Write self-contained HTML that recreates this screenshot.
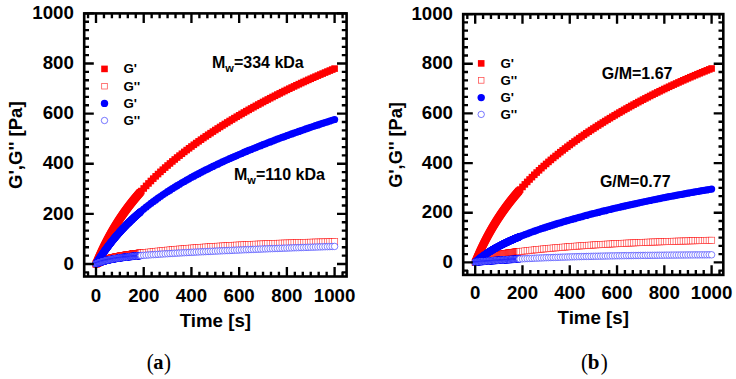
<!DOCTYPE html>
<html><head><meta charset="utf-8"><title>G' G'' vs time</title>
<style>html,body{margin:0;padding:0;background:#fff;width:736px;height:379px;overflow:hidden}svg{display:block}</style>
</head><body><svg width="736" height="379" viewBox="0 0 736 379"><g fill="#ff0000" stroke="none"><rect x="92.7" y="260.7" width="6.6" height="6.6"/><rect x="92.94" y="260.13" width="6.6" height="6.6"/><rect x="93.18" y="259.56" width="6.6" height="6.6"/><rect x="93.42" y="259" width="6.6" height="6.6"/><rect x="93.65" y="258.44" width="6.6" height="6.6"/><rect x="93.89" y="257.88" width="6.6" height="6.6"/><rect x="94.13" y="257.32" width="6.6" height="6.6"/><rect x="94.37" y="256.77" width="6.6" height="6.6"/><rect x="94.61" y="256.22" width="6.6" height="6.6"/><rect x="94.85" y="255.68" width="6.6" height="6.6"/><rect x="95.09" y="255.13" width="6.6" height="6.6"/><rect x="95.32" y="254.59" width="6.6" height="6.6"/><rect x="95.56" y="254.05" width="6.6" height="6.6"/><rect x="95.8" y="253.52" width="6.6" height="6.6"/><rect x="96.04" y="252.98" width="6.6" height="6.6"/><rect x="96.28" y="252.45" width="6.6" height="6.6"/><rect x="96.52" y="251.93" width="6.6" height="6.6"/><rect x="96.76" y="251.4" width="6.6" height="6.6"/><rect x="96.99" y="250.88" width="6.6" height="6.6"/><rect x="97.23" y="250.36" width="6.6" height="6.6"/><rect x="97.47" y="249.85" width="6.6" height="6.6"/><rect x="97.71" y="249.33" width="6.6" height="6.6"/><rect x="97.95" y="248.82" width="6.6" height="6.6"/><rect x="98.19" y="248.31" width="6.6" height="6.6"/><rect x="98.43" y="247.8" width="6.6" height="6.6"/><rect x="98.67" y="247.3" width="6.6" height="6.6"/><rect x="98.9" y="246.8" width="6.6" height="6.6"/><rect x="99.14" y="246.3" width="6.6" height="6.6"/><rect x="99.38" y="245.8" width="6.6" height="6.6"/><rect x="99.62" y="245.31" width="6.6" height="6.6"/><rect x="99.86" y="244.82" width="6.6" height="6.6"/><rect x="100.1" y="244.33" width="6.6" height="6.6"/><rect x="100.34" y="243.84" width="6.6" height="6.6"/><rect x="100.57" y="243.36" width="6.6" height="6.6"/><rect x="100.81" y="242.88" width="6.6" height="6.6"/><rect x="101.05" y="242.4" width="6.6" height="6.6"/><rect x="101.29" y="241.92" width="6.6" height="6.6"/><rect x="101.53" y="241.45" width="6.6" height="6.6"/><rect x="101.77" y="240.97" width="6.6" height="6.6"/><rect x="102.01" y="240.5" width="6.6" height="6.6"/><rect x="102.24" y="240.04" width="6.6" height="6.6"/><rect x="102.48" y="239.57" width="6.6" height="6.6"/><rect x="102.72" y="239.11" width="6.6" height="6.6"/><rect x="102.96" y="238.64" width="6.6" height="6.6"/><rect x="103.2" y="238.18" width="6.6" height="6.6"/><rect x="103.44" y="237.73" width="6.6" height="6.6"/><rect x="103.68" y="237.27" width="6.6" height="6.6"/><rect x="103.91" y="236.82" width="6.6" height="6.6"/><rect x="104.15" y="236.37" width="6.6" height="6.6"/><rect x="104.39" y="235.92" width="6.6" height="6.6"/><rect x="104.63" y="235.47" width="6.6" height="6.6"/><rect x="104.87" y="235.03" width="6.6" height="6.6"/><rect x="105.11" y="234.59" width="6.6" height="6.6"/><rect x="105.35" y="234.15" width="6.6" height="6.6"/><rect x="105.58" y="233.71" width="6.6" height="6.6"/><rect x="105.82" y="233.27" width="6.6" height="6.6"/><rect x="106.06" y="232.84" width="6.6" height="6.6"/><rect x="106.3" y="232.4" width="6.6" height="6.6"/><rect x="106.54" y="231.97" width="6.6" height="6.6"/><rect x="106.78" y="231.55" width="6.6" height="6.6"/><rect x="107.02" y="231.12" width="6.6" height="6.6"/><rect x="107.25" y="230.69" width="6.6" height="6.6"/><rect x="107.49" y="230.27" width="6.6" height="6.6"/><rect x="107.73" y="229.85" width="6.6" height="6.6"/><rect x="107.97" y="229.43" width="6.6" height="6.6"/><rect x="108.21" y="229.01" width="6.6" height="6.6"/><rect x="108.45" y="228.6" width="6.6" height="6.6"/><rect x="108.69" y="228.19" width="6.6" height="6.6"/><rect x="108.92" y="227.77" width="6.6" height="6.6"/><rect x="109.16" y="227.36" width="6.6" height="6.6"/><rect x="109.4" y="226.96" width="6.6" height="6.6"/><rect x="109.64" y="226.55" width="6.6" height="6.6"/><rect x="109.88" y="226.15" width="6.6" height="6.6"/><rect x="110.12" y="225.74" width="6.6" height="6.6"/><rect x="110.36" y="225.34" width="6.6" height="6.6"/><rect x="110.59" y="224.94" width="6.6" height="6.6"/><rect x="110.83" y="224.54" width="6.6" height="6.6"/><rect x="111.07" y="224.15" width="6.6" height="6.6"/><rect x="111.31" y="223.75" width="6.6" height="6.6"/><rect x="111.55" y="223.36" width="6.6" height="6.6"/><rect x="111.79" y="222.97" width="6.6" height="6.6"/><rect x="112.03" y="222.58" width="6.6" height="6.6"/><rect x="112.27" y="222.19" width="6.6" height="6.6"/><rect x="112.5" y="221.81" width="6.6" height="6.6"/><rect x="112.74" y="221.42" width="6.6" height="6.6"/><rect x="112.98" y="221.04" width="6.6" height="6.6"/><rect x="113.22" y="220.66" width="6.6" height="6.6"/><rect x="113.46" y="220.28" width="6.6" height="6.6"/><rect x="113.7" y="219.9" width="6.6" height="6.6"/><rect x="113.94" y="219.52" width="6.6" height="6.6"/><rect x="114.17" y="219.15" width="6.6" height="6.6"/><rect x="114.41" y="218.78" width="6.6" height="6.6"/><rect x="114.65" y="218.4" width="6.6" height="6.6"/><rect x="114.89" y="218.03" width="6.6" height="6.6"/><rect x="115.13" y="217.66" width="6.6" height="6.6"/><rect x="115.37" y="217.3" width="6.6" height="6.6"/><rect x="115.61" y="216.93" width="6.6" height="6.6"/><rect x="115.84" y="216.57" width="6.6" height="6.6"/><rect x="116.08" y="216.2" width="6.6" height="6.6"/><rect x="116.32" y="215.84" width="6.6" height="6.6"/><rect x="116.56" y="215.48" width="6.6" height="6.6"/><rect x="116.8" y="215.12" width="6.6" height="6.6"/><rect x="117.04" y="214.76" width="6.6" height="6.6"/><rect x="117.28" y="214.41" width="6.6" height="6.6"/><rect x="117.51" y="214.05" width="6.6" height="6.6"/><rect x="117.75" y="213.7" width="6.6" height="6.6"/><rect x="117.99" y="213.35" width="6.6" height="6.6"/><rect x="118.23" y="213" width="6.6" height="6.6"/><rect x="118.47" y="212.65" width="6.6" height="6.6"/><rect x="118.71" y="212.3" width="6.6" height="6.6"/><rect x="118.95" y="211.95" width="6.6" height="6.6"/><rect x="119.18" y="211.61" width="6.6" height="6.6"/><rect x="119.42" y="211.26" width="6.6" height="6.6"/><rect x="119.66" y="210.92" width="6.6" height="6.6"/><rect x="119.9" y="210.58" width="6.6" height="6.6"/><rect x="120.14" y="210.24" width="6.6" height="6.6"/><rect x="120.38" y="209.9" width="6.6" height="6.6"/><rect x="120.62" y="209.56" width="6.6" height="6.6"/><rect x="120.85" y="209.23" width="6.6" height="6.6"/><rect x="121.09" y="208.89" width="6.6" height="6.6"/><rect x="121.33" y="208.56" width="6.6" height="6.6"/><rect x="121.57" y="208.23" width="6.6" height="6.6"/><rect x="121.81" y="207.89" width="6.6" height="6.6"/><rect x="122.05" y="207.56" width="6.6" height="6.6"/><rect x="122.29" y="207.23" width="6.6" height="6.6"/><rect x="122.53" y="206.91" width="6.6" height="6.6"/><rect x="122.76" y="206.58" width="6.6" height="6.6"/><rect x="123" y="206.25" width="6.6" height="6.6"/><rect x="123.24" y="205.93" width="6.6" height="6.6"/><rect x="123.48" y="205.61" width="6.6" height="6.6"/><rect x="123.72" y="205.29" width="6.6" height="6.6"/><rect x="123.96" y="204.96" width="6.6" height="6.6"/><rect x="124.2" y="204.64" width="6.6" height="6.6"/><rect x="124.43" y="204.33" width="6.6" height="6.6"/><rect x="124.67" y="204.01" width="6.6" height="6.6"/><rect x="124.91" y="203.69" width="6.6" height="6.6"/><rect x="125.15" y="203.38" width="6.6" height="6.6"/><rect x="125.39" y="203.06" width="6.6" height="6.6"/><rect x="125.63" y="202.75" width="6.6" height="6.6"/><rect x="125.87" y="202.44" width="6.6" height="6.6"/><rect x="126.1" y="202.13" width="6.6" height="6.6"/><rect x="126.34" y="201.82" width="6.6" height="6.6"/><rect x="126.58" y="201.51" width="6.6" height="6.6"/><rect x="126.82" y="201.2" width="6.6" height="6.6"/><rect x="127.06" y="200.89" width="6.6" height="6.6"/><rect x="127.3" y="200.59" width="6.6" height="6.6"/><rect x="127.54" y="200.28" width="6.6" height="6.6"/><rect x="127.77" y="199.98" width="6.6" height="6.6"/><rect x="128.01" y="199.68" width="6.6" height="6.6"/><rect x="128.25" y="199.37" width="6.6" height="6.6"/><rect x="128.49" y="199.07" width="6.6" height="6.6"/><rect x="128.73" y="198.77" width="6.6" height="6.6"/><rect x="128.97" y="198.47" width="6.6" height="6.6"/><rect x="129.21" y="198.18" width="6.6" height="6.6"/><rect x="129.44" y="197.88" width="6.6" height="6.6"/><rect x="129.68" y="197.58" width="6.6" height="6.6"/><rect x="129.92" y="197.29" width="6.6" height="6.6"/><rect x="130.16" y="197" width="6.6" height="6.6"/><rect x="130.4" y="196.7" width="6.6" height="6.6"/><rect x="130.64" y="196.41" width="6.6" height="6.6"/><rect x="130.88" y="196.12" width="6.6" height="6.6"/><rect x="131.11" y="195.83" width="6.6" height="6.6"/><rect x="131.35" y="195.54" width="6.6" height="6.6"/><rect x="131.59" y="195.25" width="6.6" height="6.6"/><rect x="131.83" y="194.96" width="6.6" height="6.6"/><rect x="132.07" y="194.68" width="6.6" height="6.6"/><rect x="132.31" y="194.39" width="6.6" height="6.6"/><rect x="132.55" y="194.11" width="6.6" height="6.6"/><rect x="132.78" y="193.82" width="6.6" height="6.6"/><rect x="133.02" y="193.54" width="6.6" height="6.6"/><rect x="133.26" y="193.26" width="6.6" height="6.6"/><rect x="133.5" y="192.98" width="6.6" height="6.6"/><rect x="133.74" y="192.69" width="6.6" height="6.6"/><rect x="133.98" y="192.41" width="6.6" height="6.6"/><rect x="134.22" y="192.14" width="6.6" height="6.6"/><rect x="134.45" y="191.86" width="6.6" height="6.6"/><rect x="134.69" y="191.58" width="6.6" height="6.6"/><rect x="134.93" y="191.3" width="6.6" height="6.6"/><rect x="135.17" y="191.03" width="6.6" height="6.6"/><rect x="135.41" y="190.75" width="6.6" height="6.6"/><rect x="135.65" y="190.48" width="6.6" height="6.6"/><rect x="135.89" y="190.21" width="6.6" height="6.6"/><rect x="136.13" y="189.93" width="6.6" height="6.6"/><rect x="136.36" y="189.66" width="6.6" height="6.6"/><rect x="136.6" y="189.39" width="6.6" height="6.6"/><rect x="136.84" y="189.12" width="6.6" height="6.6"/><rect x="137.08" y="188.85" width="6.6" height="6.6"/><rect x="138.03" y="187.78" width="6.6" height="6.6"/><rect x="140.42" y="185.16" width="6.6" height="6.6"/><rect x="142.81" y="182.61" width="6.6" height="6.6"/><rect x="145.19" y="180.13" width="6.6" height="6.6"/><rect x="147.58" y="177.7" width="6.6" height="6.6"/><rect x="149.96" y="175.34" width="6.6" height="6.6"/><rect x="152.35" y="173.03" width="6.6" height="6.6"/><rect x="154.74" y="170.77" width="6.6" height="6.6"/><rect x="157.12" y="168.56" width="6.6" height="6.6"/><rect x="159.51" y="166.39" width="6.6" height="6.6"/><rect x="161.89" y="164.27" width="6.6" height="6.6"/><rect x="164.28" y="162.19" width="6.6" height="6.6"/><rect x="166.67" y="160.15" width="6.6" height="6.6"/><rect x="169.05" y="158.14" width="6.6" height="6.6"/><rect x="171.44" y="156.17" width="6.6" height="6.6"/><rect x="173.82" y="154.23" width="6.6" height="6.6"/><rect x="176.21" y="152.33" width="6.6" height="6.6"/><rect x="178.6" y="150.45" width="6.6" height="6.6"/><rect x="180.98" y="148.6" width="6.6" height="6.6"/><rect x="183.37" y="146.78" width="6.6" height="6.6"/><rect x="185.75" y="144.99" width="6.6" height="6.6"/><rect x="188.14" y="143.22" width="6.6" height="6.6"/><rect x="190.53" y="141.47" width="6.6" height="6.6"/><rect x="192.91" y="139.75" width="6.6" height="6.6"/><rect x="195.3" y="138.05" width="6.6" height="6.6"/><rect x="197.68" y="136.38" width="6.6" height="6.6"/><rect x="200.07" y="134.72" width="6.6" height="6.6"/><rect x="202.46" y="133.08" width="6.6" height="6.6"/><rect x="204.84" y="131.47" width="6.6" height="6.6"/><rect x="207.23" y="129.87" width="6.6" height="6.6"/><rect x="209.61" y="128.29" width="6.6" height="6.6"/><rect x="212" y="126.73" width="6.6" height="6.6"/><rect x="214.39" y="125.19" width="6.6" height="6.6"/><rect x="216.77" y="123.66" width="6.6" height="6.6"/><rect x="219.16" y="122.15" width="6.6" height="6.6"/><rect x="221.54" y="120.65" width="6.6" height="6.6"/><rect x="223.93" y="119.18" width="6.6" height="6.6"/><rect x="226.32" y="117.71" width="6.6" height="6.6"/><rect x="228.7" y="116.26" width="6.6" height="6.6"/><rect x="231.09" y="114.83" width="6.6" height="6.6"/><rect x="233.47" y="113.41" width="6.6" height="6.6"/><rect x="235.86" y="112.01" width="6.6" height="6.6"/><rect x="238.25" y="110.62" width="6.6" height="6.6"/><rect x="240.63" y="109.24" width="6.6" height="6.6"/><rect x="243.02" y="107.88" width="6.6" height="6.6"/><rect x="245.4" y="106.53" width="6.6" height="6.6"/><rect x="247.79" y="105.19" width="6.6" height="6.6"/><rect x="250.18" y="103.86" width="6.6" height="6.6"/><rect x="252.56" y="102.55" width="6.6" height="6.6"/><rect x="254.95" y="101.25" width="6.6" height="6.6"/><rect x="257.33" y="99.96" width="6.6" height="6.6"/><rect x="259.72" y="98.68" width="6.6" height="6.6"/><rect x="262.11" y="97.42" width="6.6" height="6.6"/><rect x="264.49" y="96.17" width="6.6" height="6.6"/><rect x="266.88" y="94.93" width="6.6" height="6.6"/><rect x="269.26" y="93.7" width="6.6" height="6.6"/><rect x="271.65" y="92.48" width="6.6" height="6.6"/><rect x="274.04" y="91.27" width="6.6" height="6.6"/><rect x="276.42" y="90.07" width="6.6" height="6.6"/><rect x="278.81" y="88.89" width="6.6" height="6.6"/><rect x="281.19" y="87.71" width="6.6" height="6.6"/><rect x="283.58" y="86.55" width="6.6" height="6.6"/><rect x="285.97" y="85.39" width="6.6" height="6.6"/><rect x="288.35" y="84.25" width="6.6" height="6.6"/><rect x="290.74" y="83.12" width="6.6" height="6.6"/><rect x="293.12" y="81.99" width="6.6" height="6.6"/><rect x="295.51" y="80.88" width="6.6" height="6.6"/><rect x="297.9" y="79.77" width="6.6" height="6.6"/><rect x="300.28" y="78.68" width="6.6" height="6.6"/><rect x="302.67" y="77.6" width="6.6" height="6.6"/><rect x="305.05" y="76.52" width="6.6" height="6.6"/><rect x="307.44" y="75.46" width="6.6" height="6.6"/><rect x="309.83" y="74.4" width="6.6" height="6.6"/><rect x="312.21" y="73.35" width="6.6" height="6.6"/><rect x="314.6" y="72.32" width="6.6" height="6.6"/><rect x="316.98" y="71.29" width="6.6" height="6.6"/><rect x="319.37" y="70.27" width="6.6" height="6.6"/><rect x="321.76" y="69.26" width="6.6" height="6.6"/><rect x="324.14" y="68.26" width="6.6" height="6.6"/><rect x="326.53" y="67.26" width="6.6" height="6.6"/><rect x="328.91" y="66.28" width="6.6" height="6.6"/><rect x="331.3" y="65.3" width="6.6" height="6.6"/></g><g fill="#fff" stroke="#ff0000" stroke-width="0.65" stroke-opacity="1.0"><rect x="92.9" y="260.9" width="6.2" height="6.2"/><rect x="93.14" y="260.76" width="6.2" height="6.2"/><rect x="93.38" y="260.63" width="6.2" height="6.2"/><rect x="93.62" y="260.5" width="6.2" height="6.2"/><rect x="93.85" y="260.37" width="6.2" height="6.2"/><rect x="94.09" y="260.24" width="6.2" height="6.2"/><rect x="94.33" y="260.11" width="6.2" height="6.2"/><rect x="94.57" y="259.99" width="6.2" height="6.2"/><rect x="94.81" y="259.86" width="6.2" height="6.2"/><rect x="95.05" y="259.74" width="6.2" height="6.2"/><rect x="95.29" y="259.62" width="6.2" height="6.2"/><rect x="95.52" y="259.5" width="6.2" height="6.2"/><rect x="95.76" y="259.39" width="6.2" height="6.2"/><rect x="96" y="259.28" width="6.2" height="6.2"/><rect x="96.24" y="259.16" width="6.2" height="6.2"/><rect x="96.48" y="259.05" width="6.2" height="6.2"/><rect x="96.72" y="258.94" width="6.2" height="6.2"/><rect x="96.96" y="258.83" width="6.2" height="6.2"/><rect x="97.19" y="258.73" width="6.2" height="6.2"/><rect x="97.43" y="258.62" width="6.2" height="6.2"/><rect x="97.67" y="258.52" width="6.2" height="6.2"/><rect x="97.91" y="258.42" width="6.2" height="6.2"/><rect x="98.15" y="258.32" width="6.2" height="6.2"/><rect x="98.39" y="258.22" width="6.2" height="6.2"/><rect x="98.63" y="258.12" width="6.2" height="6.2"/><rect x="98.87" y="258.02" width="6.2" height="6.2"/><rect x="99.1" y="257.93" width="6.2" height="6.2"/><rect x="99.34" y="257.84" width="6.2" height="6.2"/><rect x="99.58" y="257.74" width="6.2" height="6.2"/><rect x="99.82" y="257.65" width="6.2" height="6.2"/><rect x="100.06" y="257.56" width="6.2" height="6.2"/><rect x="100.3" y="257.47" width="6.2" height="6.2"/><rect x="100.54" y="257.38" width="6.2" height="6.2"/><rect x="100.77" y="257.3" width="6.2" height="6.2"/><rect x="101.01" y="257.21" width="6.2" height="6.2"/><rect x="101.25" y="257.13" width="6.2" height="6.2"/><rect x="101.49" y="257.04" width="6.2" height="6.2"/><rect x="101.73" y="256.96" width="6.2" height="6.2"/><rect x="101.97" y="256.88" width="6.2" height="6.2"/><rect x="102.21" y="256.8" width="6.2" height="6.2"/><rect x="102.44" y="256.72" width="6.2" height="6.2"/><rect x="102.68" y="256.64" width="6.2" height="6.2"/><rect x="102.92" y="256.56" width="6.2" height="6.2"/><rect x="103.16" y="256.49" width="6.2" height="6.2"/><rect x="103.4" y="256.41" width="6.2" height="6.2"/><rect x="103.64" y="256.34" width="6.2" height="6.2"/><rect x="103.88" y="256.26" width="6.2" height="6.2"/><rect x="104.11" y="256.19" width="6.2" height="6.2"/><rect x="104.35" y="256.12" width="6.2" height="6.2"/><rect x="104.59" y="256.04" width="6.2" height="6.2"/><rect x="104.83" y="255.97" width="6.2" height="6.2"/><rect x="105.07" y="255.9" width="6.2" height="6.2"/><rect x="105.31" y="255.83" width="6.2" height="6.2"/><rect x="105.55" y="255.77" width="6.2" height="6.2"/><rect x="105.78" y="255.7" width="6.2" height="6.2"/><rect x="106.02" y="255.63" width="6.2" height="6.2"/><rect x="106.26" y="255.56" width="6.2" height="6.2"/><rect x="106.5" y="255.5" width="6.2" height="6.2"/><rect x="106.74" y="255.43" width="6.2" height="6.2"/><rect x="106.98" y="255.37" width="6.2" height="6.2"/><rect x="107.22" y="255.31" width="6.2" height="6.2"/><rect x="107.45" y="255.24" width="6.2" height="6.2"/><rect x="107.69" y="255.18" width="6.2" height="6.2"/><rect x="107.93" y="255.12" width="6.2" height="6.2"/><rect x="108.17" y="255.06" width="6.2" height="6.2"/><rect x="108.41" y="255" width="6.2" height="6.2"/><rect x="108.65" y="254.94" width="6.2" height="6.2"/><rect x="108.89" y="254.88" width="6.2" height="6.2"/><rect x="109.12" y="254.82" width="6.2" height="6.2"/><rect x="109.36" y="254.76" width="6.2" height="6.2"/><rect x="109.6" y="254.7" width="6.2" height="6.2"/><rect x="109.84" y="254.64" width="6.2" height="6.2"/><rect x="110.08" y="254.59" width="6.2" height="6.2"/><rect x="110.32" y="254.53" width="6.2" height="6.2"/><rect x="110.56" y="254.48" width="6.2" height="6.2"/><rect x="110.8" y="254.42" width="6.2" height="6.2"/><rect x="111.03" y="254.37" width="6.2" height="6.2"/><rect x="111.27" y="254.31" width="6.2" height="6.2"/><rect x="111.51" y="254.26" width="6.2" height="6.2"/><rect x="111.75" y="254.21" width="6.2" height="6.2"/><rect x="111.99" y="254.15" width="6.2" height="6.2"/><rect x="112.23" y="254.1" width="6.2" height="6.2"/><rect x="112.47" y="254.05" width="6.2" height="6.2"/><rect x="112.7" y="254" width="6.2" height="6.2"/><rect x="112.94" y="253.95" width="6.2" height="6.2"/><rect x="113.18" y="253.89" width="6.2" height="6.2"/><rect x="113.42" y="253.84" width="6.2" height="6.2"/><rect x="113.66" y="253.79" width="6.2" height="6.2"/><rect x="113.9" y="253.74" width="6.2" height="6.2"/><rect x="114.14" y="253.7" width="6.2" height="6.2"/><rect x="114.37" y="253.65" width="6.2" height="6.2"/><rect x="114.61" y="253.6" width="6.2" height="6.2"/><rect x="114.85" y="253.55" width="6.2" height="6.2"/><rect x="115.09" y="253.5" width="6.2" height="6.2"/><rect x="115.33" y="253.46" width="6.2" height="6.2"/><rect x="115.57" y="253.41" width="6.2" height="6.2"/><rect x="115.81" y="253.36" width="6.2" height="6.2"/><rect x="116.04" y="253.32" width="6.2" height="6.2"/><rect x="116.28" y="253.27" width="6.2" height="6.2"/><rect x="116.52" y="253.22" width="6.2" height="6.2"/><rect x="116.76" y="253.18" width="6.2" height="6.2"/><rect x="117" y="253.13" width="6.2" height="6.2"/><rect x="117.24" y="253.09" width="6.2" height="6.2"/><rect x="117.48" y="253.04" width="6.2" height="6.2"/><rect x="117.71" y="253" width="6.2" height="6.2"/><rect x="117.95" y="252.96" width="6.2" height="6.2"/><rect x="118.19" y="252.91" width="6.2" height="6.2"/><rect x="118.43" y="252.87" width="6.2" height="6.2"/><rect x="118.67" y="252.83" width="6.2" height="6.2"/><rect x="118.91" y="252.78" width="6.2" height="6.2"/><rect x="119.15" y="252.74" width="6.2" height="6.2"/><rect x="119.38" y="252.7" width="6.2" height="6.2"/><rect x="119.62" y="252.66" width="6.2" height="6.2"/><rect x="119.86" y="252.62" width="6.2" height="6.2"/><rect x="120.1" y="252.57" width="6.2" height="6.2"/><rect x="120.34" y="252.53" width="6.2" height="6.2"/><rect x="120.58" y="252.49" width="6.2" height="6.2"/><rect x="120.82" y="252.45" width="6.2" height="6.2"/><rect x="121.05" y="252.41" width="6.2" height="6.2"/><rect x="121.29" y="252.37" width="6.2" height="6.2"/><rect x="121.53" y="252.33" width="6.2" height="6.2"/><rect x="121.77" y="252.29" width="6.2" height="6.2"/><rect x="122.01" y="252.25" width="6.2" height="6.2"/><rect x="122.25" y="252.21" width="6.2" height="6.2"/><rect x="122.49" y="252.17" width="6.2" height="6.2"/><rect x="122.73" y="252.13" width="6.2" height="6.2"/><rect x="122.96" y="252.1" width="6.2" height="6.2"/><rect x="123.2" y="252.06" width="6.2" height="6.2"/><rect x="123.44" y="252.02" width="6.2" height="6.2"/><rect x="123.68" y="251.98" width="6.2" height="6.2"/><rect x="123.92" y="251.94" width="6.2" height="6.2"/><rect x="124.16" y="251.9" width="6.2" height="6.2"/><rect x="124.4" y="251.87" width="6.2" height="6.2"/><rect x="124.63" y="251.83" width="6.2" height="6.2"/><rect x="124.87" y="251.79" width="6.2" height="6.2"/><rect x="125.11" y="251.76" width="6.2" height="6.2"/><rect x="125.35" y="251.72" width="6.2" height="6.2"/><rect x="125.59" y="251.68" width="6.2" height="6.2"/><rect x="125.83" y="251.65" width="6.2" height="6.2"/><rect x="126.07" y="251.61" width="6.2" height="6.2"/><rect x="126.3" y="251.57" width="6.2" height="6.2"/><rect x="126.54" y="251.54" width="6.2" height="6.2"/><rect x="126.78" y="251.5" width="6.2" height="6.2"/><rect x="127.02" y="251.47" width="6.2" height="6.2"/><rect x="127.26" y="251.43" width="6.2" height="6.2"/><rect x="127.5" y="251.39" width="6.2" height="6.2"/><rect x="127.74" y="251.36" width="6.2" height="6.2"/><rect x="127.97" y="251.32" width="6.2" height="6.2"/><rect x="128.21" y="251.29" width="6.2" height="6.2"/><rect x="128.45" y="251.25" width="6.2" height="6.2"/><rect x="128.69" y="251.22" width="6.2" height="6.2"/><rect x="128.93" y="251.19" width="6.2" height="6.2"/><rect x="129.17" y="251.15" width="6.2" height="6.2"/><rect x="129.41" y="251.12" width="6.2" height="6.2"/><rect x="129.64" y="251.08" width="6.2" height="6.2"/><rect x="129.88" y="251.05" width="6.2" height="6.2"/><rect x="130.12" y="251.02" width="6.2" height="6.2"/><rect x="130.36" y="250.98" width="6.2" height="6.2"/><rect x="130.6" y="250.95" width="6.2" height="6.2"/><rect x="130.84" y="250.92" width="6.2" height="6.2"/><rect x="131.08" y="250.88" width="6.2" height="6.2"/><rect x="131.31" y="250.85" width="6.2" height="6.2"/><rect x="131.55" y="250.82" width="6.2" height="6.2"/><rect x="131.79" y="250.78" width="6.2" height="6.2"/><rect x="132.03" y="250.75" width="6.2" height="6.2"/><rect x="132.27" y="250.72" width="6.2" height="6.2"/><rect x="132.51" y="250.69" width="6.2" height="6.2"/><rect x="132.75" y="250.65" width="6.2" height="6.2"/><rect x="132.98" y="250.62" width="6.2" height="6.2"/><rect x="133.22" y="250.59" width="6.2" height="6.2"/><rect x="133.46" y="250.56" width="6.2" height="6.2"/><rect x="133.7" y="250.52" width="6.2" height="6.2"/><rect x="133.94" y="250.49" width="6.2" height="6.2"/><rect x="134.18" y="250.46" width="6.2" height="6.2"/><rect x="134.42" y="250.43" width="6.2" height="6.2"/><rect x="134.66" y="250.4" width="6.2" height="6.2"/><rect x="134.89" y="250.37" width="6.2" height="6.2"/><rect x="135.13" y="250.34" width="6.2" height="6.2"/><rect x="135.37" y="250.3" width="6.2" height="6.2"/><rect x="135.61" y="250.27" width="6.2" height="6.2"/><rect x="135.85" y="250.24" width="6.2" height="6.2"/><rect x="136.09" y="250.21" width="6.2" height="6.2"/><rect x="136.33" y="250.18" width="6.2" height="6.2"/><rect x="136.56" y="250.15" width="6.2" height="6.2"/><rect x="136.8" y="250.12" width="6.2" height="6.2"/><rect x="137.04" y="250.09" width="6.2" height="6.2"/><rect x="137.28" y="250.06" width="6.2" height="6.2"/></g><g fill="#fff" stroke="#ff0000" stroke-width="0.65" stroke-opacity="0.75"><rect x="138.23" y="249.94" width="6.2" height="6.2"/><rect x="140.62" y="249.64" width="6.2" height="6.2"/><rect x="143.01" y="249.36" width="6.2" height="6.2"/><rect x="145.39" y="249.08" width="6.2" height="6.2"/><rect x="147.78" y="248.81" width="6.2" height="6.2"/><rect x="150.16" y="248.54" width="6.2" height="6.2"/><rect x="152.55" y="248.29" width="6.2" height="6.2"/><rect x="154.94" y="248.03" width="6.2" height="6.2"/><rect x="157.32" y="247.79" width="6.2" height="6.2"/><rect x="159.71" y="247.55" width="6.2" height="6.2"/><rect x="162.09" y="247.31" width="6.2" height="6.2"/><rect x="164.48" y="247.08" width="6.2" height="6.2"/><rect x="166.87" y="246.85" width="6.2" height="6.2"/><rect x="169.25" y="246.63" width="6.2" height="6.2"/><rect x="171.64" y="246.42" width="6.2" height="6.2"/><rect x="174.02" y="246.21" width="6.2" height="6.2"/><rect x="176.41" y="246" width="6.2" height="6.2"/><rect x="178.8" y="245.8" width="6.2" height="6.2"/><rect x="181.18" y="245.6" width="6.2" height="6.2"/><rect x="183.57" y="245.4" width="6.2" height="6.2"/><rect x="185.95" y="245.21" width="6.2" height="6.2"/><rect x="188.34" y="245.02" width="6.2" height="6.2"/><rect x="190.73" y="244.84" width="6.2" height="6.2"/><rect x="193.11" y="244.66" width="6.2" height="6.2"/><rect x="195.5" y="244.48" width="6.2" height="6.2"/><rect x="197.88" y="244.31" width="6.2" height="6.2"/><rect x="200.27" y="244.14" width="6.2" height="6.2"/><rect x="202.66" y="243.98" width="6.2" height="6.2"/><rect x="205.04" y="243.81" width="6.2" height="6.2"/><rect x="207.43" y="243.66" width="6.2" height="6.2"/><rect x="209.81" y="243.5" width="6.2" height="6.2"/><rect x="212.2" y="243.35" width="6.2" height="6.2"/><rect x="214.59" y="243.2" width="6.2" height="6.2"/><rect x="216.97" y="243.05" width="6.2" height="6.2"/><rect x="219.36" y="242.91" width="6.2" height="6.2"/><rect x="221.74" y="242.77" width="6.2" height="6.2"/><rect x="224.13" y="242.63" width="6.2" height="6.2"/><rect x="226.52" y="242.49" width="6.2" height="6.2"/><rect x="228.9" y="242.36" width="6.2" height="6.2"/><rect x="231.29" y="242.23" width="6.2" height="6.2"/><rect x="233.67" y="242.1" width="6.2" height="6.2"/><rect x="236.06" y="241.98" width="6.2" height="6.2"/><rect x="238.45" y="241.85" width="6.2" height="6.2"/><rect x="240.83" y="241.73" width="6.2" height="6.2"/><rect x="243.22" y="241.62" width="6.2" height="6.2"/><rect x="245.6" y="241.5" width="6.2" height="6.2"/><rect x="247.99" y="241.39" width="6.2" height="6.2"/><rect x="250.38" y="241.28" width="6.2" height="6.2"/><rect x="252.76" y="241.17" width="6.2" height="6.2"/><rect x="255.15" y="241.06" width="6.2" height="6.2"/><rect x="257.53" y="240.96" width="6.2" height="6.2"/><rect x="259.92" y="240.86" width="6.2" height="6.2"/><rect x="262.31" y="240.76" width="6.2" height="6.2"/><rect x="264.69" y="240.66" width="6.2" height="6.2"/><rect x="267.08" y="240.56" width="6.2" height="6.2"/><rect x="269.46" y="240.47" width="6.2" height="6.2"/><rect x="271.85" y="240.38" width="6.2" height="6.2"/><rect x="274.24" y="240.29" width="6.2" height="6.2"/><rect x="276.62" y="240.2" width="6.2" height="6.2"/><rect x="279.01" y="240.11" width="6.2" height="6.2"/><rect x="281.39" y="240.03" width="6.2" height="6.2"/><rect x="283.78" y="239.94" width="6.2" height="6.2"/><rect x="286.17" y="239.86" width="6.2" height="6.2"/><rect x="288.55" y="239.78" width="6.2" height="6.2"/><rect x="290.94" y="239.7" width="6.2" height="6.2"/><rect x="293.32" y="239.63" width="6.2" height="6.2"/><rect x="295.71" y="239.55" width="6.2" height="6.2"/><rect x="298.1" y="239.48" width="6.2" height="6.2"/><rect x="300.48" y="239.4" width="6.2" height="6.2"/><rect x="302.87" y="239.33" width="6.2" height="6.2"/><rect x="305.25" y="239.26" width="6.2" height="6.2"/><rect x="307.64" y="239.2" width="6.2" height="6.2"/><rect x="310.03" y="239.13" width="6.2" height="6.2"/><rect x="312.41" y="239.06" width="6.2" height="6.2"/><rect x="314.8" y="239" width="6.2" height="6.2"/><rect x="317.18" y="238.94" width="6.2" height="6.2"/><rect x="319.57" y="238.87" width="6.2" height="6.2"/><rect x="321.96" y="238.81" width="6.2" height="6.2"/><rect x="324.34" y="238.76" width="6.2" height="6.2"/><rect x="326.73" y="238.7" width="6.2" height="6.2"/><rect x="329.11" y="238.64" width="6.2" height="6.2"/><rect x="331.5" y="238.58" width="6.2" height="6.2"/></g><g fill="#0000ff" stroke="none"><circle cx="96" cy="264" r="3.6"/><circle cx="96.24" cy="263.61" r="3.6"/><circle cx="96.48" cy="263.23" r="3.6"/><circle cx="96.72" cy="262.85" r="3.6"/><circle cx="96.95" cy="262.46" r="3.6"/><circle cx="97.19" cy="262.08" r="3.6"/><circle cx="97.43" cy="261.71" r="3.6"/><circle cx="97.67" cy="261.33" r="3.6"/><circle cx="97.91" cy="260.95" r="3.6"/><circle cx="98.15" cy="260.58" r="3.6"/><circle cx="98.39" cy="260.21" r="3.6"/><circle cx="98.62" cy="259.84" r="3.6"/><circle cx="98.86" cy="259.47" r="3.6"/><circle cx="99.1" cy="259.1" r="3.6"/><circle cx="99.34" cy="258.73" r="3.6"/><circle cx="99.58" cy="258.37" r="3.6"/><circle cx="99.82" cy="258" r="3.6"/><circle cx="100.06" cy="257.64" r="3.6"/><circle cx="100.29" cy="257.28" r="3.6"/><circle cx="100.53" cy="256.92" r="3.6"/><circle cx="100.77" cy="256.56" r="3.6"/><circle cx="101.01" cy="256.21" r="3.6"/><circle cx="101.25" cy="255.85" r="3.6"/><circle cx="101.49" cy="255.5" r="3.6"/><circle cx="101.73" cy="255.15" r="3.6"/><circle cx="101.97" cy="254.8" r="3.6"/><circle cx="102.2" cy="254.45" r="3.6"/><circle cx="102.44" cy="254.1" r="3.6"/><circle cx="102.68" cy="253.75" r="3.6"/><circle cx="102.92" cy="253.41" r="3.6"/><circle cx="103.16" cy="253.06" r="3.6"/><circle cx="103.4" cy="252.72" r="3.6"/><circle cx="103.64" cy="252.38" r="3.6"/><circle cx="103.87" cy="252.04" r="3.6"/><circle cx="104.11" cy="251.7" r="3.6"/><circle cx="104.35" cy="251.36" r="3.6"/><circle cx="104.59" cy="251.03" r="3.6"/><circle cx="104.83" cy="250.69" r="3.6"/><circle cx="105.07" cy="250.36" r="3.6"/><circle cx="105.31" cy="250.03" r="3.6"/><circle cx="105.54" cy="249.7" r="3.6"/><circle cx="105.78" cy="249.37" r="3.6"/><circle cx="106.02" cy="249.04" r="3.6"/><circle cx="106.26" cy="248.71" r="3.6"/><circle cx="106.5" cy="248.39" r="3.6"/><circle cx="106.74" cy="248.06" r="3.6"/><circle cx="106.98" cy="247.74" r="3.6"/><circle cx="107.21" cy="247.42" r="3.6"/><circle cx="107.45" cy="247.09" r="3.6"/><circle cx="107.69" cy="246.77" r="3.6"/><circle cx="107.93" cy="246.46" r="3.6"/><circle cx="108.17" cy="246.14" r="3.6"/><circle cx="108.41" cy="245.82" r="3.6"/><circle cx="108.65" cy="245.51" r="3.6"/><circle cx="108.88" cy="245.19" r="3.6"/><circle cx="109.12" cy="244.88" r="3.6"/><circle cx="109.36" cy="244.57" r="3.6"/><circle cx="109.6" cy="244.26" r="3.6"/><circle cx="109.84" cy="243.95" r="3.6"/><circle cx="110.08" cy="243.64" r="3.6"/><circle cx="110.32" cy="243.34" r="3.6"/><circle cx="110.55" cy="243.03" r="3.6"/><circle cx="110.79" cy="242.73" r="3.6"/><circle cx="111.03" cy="242.42" r="3.6"/><circle cx="111.27" cy="242.12" r="3.6"/><circle cx="111.51" cy="241.82" r="3.6"/><circle cx="111.75" cy="241.52" r="3.6"/><circle cx="111.99" cy="241.22" r="3.6"/><circle cx="112.22" cy="240.92" r="3.6"/><circle cx="112.46" cy="240.62" r="3.6"/><circle cx="112.7" cy="240.33" r="3.6"/><circle cx="112.94" cy="240.03" r="3.6"/><circle cx="113.18" cy="239.74" r="3.6"/><circle cx="113.42" cy="239.45" r="3.6"/><circle cx="113.66" cy="239.16" r="3.6"/><circle cx="113.89" cy="238.86" r="3.6"/><circle cx="114.13" cy="238.58" r="3.6"/><circle cx="114.37" cy="238.29" r="3.6"/><circle cx="114.61" cy="238" r="3.6"/><circle cx="114.85" cy="237.71" r="3.6"/><circle cx="115.09" cy="237.43" r="3.6"/><circle cx="115.33" cy="237.14" r="3.6"/><circle cx="115.57" cy="236.86" r="3.6"/><circle cx="115.8" cy="236.58" r="3.6"/><circle cx="116.04" cy="236.3" r="3.6"/><circle cx="116.28" cy="236.02" r="3.6"/><circle cx="116.52" cy="235.74" r="3.6"/><circle cx="116.76" cy="235.46" r="3.6"/><circle cx="117" cy="235.18" r="3.6"/><circle cx="117.24" cy="234.9" r="3.6"/><circle cx="117.47" cy="234.63" r="3.6"/><circle cx="117.71" cy="234.35" r="3.6"/><circle cx="117.95" cy="234.08" r="3.6"/><circle cx="118.19" cy="233.81" r="3.6"/><circle cx="118.43" cy="233.53" r="3.6"/><circle cx="118.67" cy="233.26" r="3.6"/><circle cx="118.91" cy="232.99" r="3.6"/><circle cx="119.14" cy="232.72" r="3.6"/><circle cx="119.38" cy="232.46" r="3.6"/><circle cx="119.62" cy="232.19" r="3.6"/><circle cx="119.86" cy="231.92" r="3.6"/><circle cx="120.1" cy="231.66" r="3.6"/><circle cx="120.34" cy="231.39" r="3.6"/><circle cx="120.58" cy="231.13" r="3.6"/><circle cx="120.81" cy="230.87" r="3.6"/><circle cx="121.05" cy="230.61" r="3.6"/><circle cx="121.29" cy="230.34" r="3.6"/><circle cx="121.53" cy="230.08" r="3.6"/><circle cx="121.77" cy="229.82" r="3.6"/><circle cx="122.01" cy="229.57" r="3.6"/><circle cx="122.25" cy="229.31" r="3.6"/><circle cx="122.48" cy="229.05" r="3.6"/><circle cx="122.72" cy="228.8" r="3.6"/><circle cx="122.96" cy="228.54" r="3.6"/><circle cx="123.2" cy="228.29" r="3.6"/><circle cx="123.44" cy="228.03" r="3.6"/><circle cx="123.68" cy="227.78" r="3.6"/><circle cx="123.92" cy="227.53" r="3.6"/><circle cx="124.15" cy="227.28" r="3.6"/><circle cx="124.39" cy="227.03" r="3.6"/><circle cx="124.63" cy="226.78" r="3.6"/><circle cx="124.87" cy="226.53" r="3.6"/><circle cx="125.11" cy="226.28" r="3.6"/><circle cx="125.35" cy="226.04" r="3.6"/><circle cx="125.59" cy="225.79" r="3.6"/><circle cx="125.83" cy="225.55" r="3.6"/><circle cx="126.06" cy="225.3" r="3.6"/><circle cx="126.3" cy="225.06" r="3.6"/><circle cx="126.54" cy="224.82" r="3.6"/><circle cx="126.78" cy="224.57" r="3.6"/><circle cx="127.02" cy="224.33" r="3.6"/><circle cx="127.26" cy="224.09" r="3.6"/><circle cx="127.5" cy="223.85" r="3.6"/><circle cx="127.73" cy="223.61" r="3.6"/><circle cx="127.97" cy="223.37" r="3.6"/><circle cx="128.21" cy="223.14" r="3.6"/><circle cx="128.45" cy="222.9" r="3.6"/><circle cx="128.69" cy="222.66" r="3.6"/><circle cx="128.93" cy="222.43" r="3.6"/><circle cx="129.17" cy="222.19" r="3.6"/><circle cx="129.4" cy="221.96" r="3.6"/><circle cx="129.64" cy="221.73" r="3.6"/><circle cx="129.88" cy="221.49" r="3.6"/><circle cx="130.12" cy="221.26" r="3.6"/><circle cx="130.36" cy="221.03" r="3.6"/><circle cx="130.6" cy="220.8" r="3.6"/><circle cx="130.84" cy="220.57" r="3.6"/><circle cx="131.07" cy="220.34" r="3.6"/><circle cx="131.31" cy="220.11" r="3.6"/><circle cx="131.55" cy="219.89" r="3.6"/><circle cx="131.79" cy="219.66" r="3.6"/><circle cx="132.03" cy="219.43" r="3.6"/><circle cx="132.27" cy="219.21" r="3.6"/><circle cx="132.51" cy="218.98" r="3.6"/><circle cx="132.74" cy="218.76" r="3.6"/><circle cx="132.98" cy="218.54" r="3.6"/><circle cx="133.22" cy="218.31" r="3.6"/><circle cx="133.46" cy="218.09" r="3.6"/><circle cx="133.7" cy="217.87" r="3.6"/><circle cx="133.94" cy="217.65" r="3.6"/><circle cx="134.18" cy="217.43" r="3.6"/><circle cx="134.41" cy="217.21" r="3.6"/><circle cx="134.65" cy="216.99" r="3.6"/><circle cx="134.89" cy="216.77" r="3.6"/><circle cx="135.13" cy="216.55" r="3.6"/><circle cx="135.37" cy="216.34" r="3.6"/><circle cx="135.61" cy="216.12" r="3.6"/><circle cx="135.85" cy="215.91" r="3.6"/><circle cx="136.08" cy="215.69" r="3.6"/><circle cx="136.32" cy="215.48" r="3.6"/><circle cx="136.56" cy="215.26" r="3.6"/><circle cx="136.8" cy="215.05" r="3.6"/><circle cx="137.04" cy="214.84" r="3.6"/><circle cx="137.28" cy="214.62" r="3.6"/><circle cx="137.52" cy="214.41" r="3.6"/><circle cx="137.75" cy="214.2" r="3.6"/><circle cx="137.99" cy="213.99" r="3.6"/><circle cx="138.23" cy="213.78" r="3.6"/><circle cx="138.47" cy="213.57" r="3.6"/><circle cx="138.71" cy="213.37" r="3.6"/><circle cx="138.95" cy="213.16" r="3.6"/><circle cx="139.19" cy="212.95" r="3.6"/><circle cx="139.43" cy="212.74" r="3.6"/><circle cx="139.66" cy="212.54" r="3.6"/><circle cx="139.9" cy="212.33" r="3.6"/><circle cx="140.14" cy="212.13" r="3.6"/><circle cx="140.38" cy="211.92" r="3.6"/><circle cx="141.33" cy="211.11" r="3.6"/><circle cx="143.72" cy="209.12" r="3.6"/><circle cx="146.11" cy="207.18" r="3.6"/><circle cx="148.49" cy="205.29" r="3.6"/><circle cx="150.88" cy="203.45" r="3.6"/><circle cx="153.26" cy="201.65" r="3.6"/><circle cx="155.65" cy="199.89" r="3.6"/><circle cx="158.04" cy="198.18" r="3.6"/><circle cx="160.42" cy="196.5" r="3.6"/><circle cx="162.81" cy="194.86" r="3.6"/><circle cx="165.19" cy="193.25" r="3.6"/><circle cx="167.58" cy="191.68" r="3.6"/><circle cx="169.97" cy="190.14" r="3.6"/><circle cx="172.35" cy="188.63" r="3.6"/><circle cx="174.74" cy="187.15" r="3.6"/><circle cx="177.12" cy="185.69" r="3.6"/><circle cx="179.51" cy="184.26" r="3.6"/><circle cx="181.9" cy="182.86" r="3.6"/><circle cx="184.28" cy="181.48" r="3.6"/><circle cx="186.67" cy="180.12" r="3.6"/><circle cx="189.05" cy="178.78" r="3.6"/><circle cx="191.44" cy="177.47" r="3.6"/><circle cx="193.83" cy="176.17" r="3.6"/><circle cx="196.21" cy="174.9" r="3.6"/><circle cx="198.6" cy="173.64" r="3.6"/><circle cx="200.98" cy="172.4" r="3.6"/><circle cx="203.37" cy="171.18" r="3.6"/><circle cx="205.76" cy="169.97" r="3.6"/><circle cx="208.14" cy="168.78" r="3.6"/><circle cx="210.53" cy="167.6" r="3.6"/><circle cx="212.91" cy="166.44" r="3.6"/><circle cx="215.3" cy="165.29" r="3.6"/><circle cx="217.69" cy="164.16" r="3.6"/><circle cx="220.07" cy="163.04" r="3.6"/><circle cx="222.46" cy="161.93" r="3.6"/><circle cx="224.84" cy="160.84" r="3.6"/><circle cx="227.23" cy="159.75" r="3.6"/><circle cx="229.62" cy="158.68" r="3.6"/><circle cx="232" cy="157.62" r="3.6"/><circle cx="234.39" cy="156.57" r="3.6"/><circle cx="236.77" cy="155.53" r="3.6"/><circle cx="239.16" cy="154.5" r="3.6"/><circle cx="241.55" cy="153.48" r="3.6"/><circle cx="243.93" cy="152.47" r="3.6"/><circle cx="246.32" cy="151.46" r="3.6"/><circle cx="248.7" cy="150.47" r="3.6"/><circle cx="251.09" cy="149.49" r="3.6"/><circle cx="253.48" cy="148.51" r="3.6"/><circle cx="255.86" cy="147.55" r="3.6"/><circle cx="258.25" cy="146.59" r="3.6"/><circle cx="260.63" cy="145.64" r="3.6"/><circle cx="263.02" cy="144.7" r="3.6"/><circle cx="265.41" cy="143.76" r="3.6"/><circle cx="267.79" cy="142.84" r="3.6"/><circle cx="270.18" cy="141.92" r="3.6"/><circle cx="272.56" cy="141.01" r="3.6"/><circle cx="274.95" cy="140.1" r="3.6"/><circle cx="277.34" cy="139.2" r="3.6"/><circle cx="279.72" cy="138.31" r="3.6"/><circle cx="282.11" cy="137.43" r="3.6"/><circle cx="284.49" cy="136.55" r="3.6"/><circle cx="286.88" cy="135.68" r="3.6"/><circle cx="289.27" cy="134.81" r="3.6"/><circle cx="291.65" cy="133.96" r="3.6"/><circle cx="294.04" cy="133.1" r="3.6"/><circle cx="296.42" cy="132.26" r="3.6"/><circle cx="298.81" cy="131.42" r="3.6"/><circle cx="301.2" cy="130.58" r="3.6"/><circle cx="303.58" cy="129.76" r="3.6"/><circle cx="305.97" cy="128.93" r="3.6"/><circle cx="308.35" cy="128.12" r="3.6"/><circle cx="310.74" cy="127.31" r="3.6"/><circle cx="313.13" cy="126.5" r="3.6"/><circle cx="315.51" cy="125.7" r="3.6"/><circle cx="317.9" cy="124.91" r="3.6"/><circle cx="320.28" cy="124.12" r="3.6"/><circle cx="322.67" cy="123.33" r="3.6"/><circle cx="325.06" cy="122.56" r="3.6"/><circle cx="327.44" cy="121.78" r="3.6"/><circle cx="329.83" cy="121.01" r="3.6"/><circle cx="332.21" cy="120.25" r="3.6"/><circle cx="334.6" cy="119.49" r="3.6"/></g><g fill="#fff" stroke="#0000ff" stroke-width="0.65" stroke-opacity="1.0"><circle cx="96" cy="264" r="3.25"/><circle cx="96.24" cy="263.9" r="3.25"/><circle cx="96.48" cy="263.8" r="3.25"/><circle cx="96.72" cy="263.7" r="3.25"/><circle cx="96.95" cy="263.61" r="3.25"/><circle cx="97.19" cy="263.51" r="3.25"/><circle cx="97.43" cy="263.42" r="3.25"/><circle cx="97.67" cy="263.32" r="3.25"/><circle cx="97.91" cy="263.23" r="3.25"/><circle cx="98.15" cy="263.14" r="3.25"/><circle cx="98.39" cy="263.05" r="3.25"/><circle cx="98.62" cy="262.96" r="3.25"/><circle cx="98.86" cy="262.87" r="3.25"/><circle cx="99.1" cy="262.78" r="3.25"/><circle cx="99.34" cy="262.7" r="3.25"/><circle cx="99.58" cy="262.61" r="3.25"/><circle cx="99.82" cy="262.53" r="3.25"/><circle cx="100.06" cy="262.45" r="3.25"/><circle cx="100.29" cy="262.36" r="3.25"/><circle cx="100.53" cy="262.28" r="3.25"/><circle cx="100.77" cy="262.2" r="3.25"/><circle cx="101.01" cy="262.12" r="3.25"/><circle cx="101.25" cy="262.04" r="3.25"/><circle cx="101.49" cy="261.97" r="3.25"/><circle cx="101.73" cy="261.89" r="3.25"/><circle cx="101.97" cy="261.82" r="3.25"/><circle cx="102.2" cy="261.74" r="3.25"/><circle cx="102.44" cy="261.67" r="3.25"/><circle cx="102.68" cy="261.59" r="3.25"/><circle cx="102.92" cy="261.52" r="3.25"/><circle cx="103.16" cy="261.45" r="3.25"/><circle cx="103.4" cy="261.38" r="3.25"/><circle cx="103.64" cy="261.31" r="3.25"/><circle cx="103.87" cy="261.24" r="3.25"/><circle cx="104.11" cy="261.17" r="3.25"/><circle cx="104.35" cy="261.1" r="3.25"/><circle cx="104.59" cy="261.04" r="3.25"/><circle cx="104.83" cy="260.97" r="3.25"/><circle cx="105.07" cy="260.91" r="3.25"/><circle cx="105.31" cy="260.84" r="3.25"/><circle cx="105.54" cy="260.78" r="3.25"/><circle cx="105.78" cy="260.71" r="3.25"/><circle cx="106.02" cy="260.65" r="3.25"/><circle cx="106.26" cy="260.59" r="3.25"/><circle cx="106.5" cy="260.53" r="3.25"/><circle cx="106.74" cy="260.47" r="3.25"/><circle cx="106.98" cy="260.41" r="3.25"/><circle cx="107.21" cy="260.35" r="3.25"/><circle cx="107.45" cy="260.29" r="3.25"/><circle cx="107.69" cy="260.23" r="3.25"/><circle cx="107.93" cy="260.17" r="3.25"/><circle cx="108.17" cy="260.12" r="3.25"/><circle cx="108.41" cy="260.06" r="3.25"/><circle cx="108.65" cy="260" r="3.25"/><circle cx="108.88" cy="259.95" r="3.25"/><circle cx="109.12" cy="259.89" r="3.25"/><circle cx="109.36" cy="259.84" r="3.25"/><circle cx="109.6" cy="259.79" r="3.25"/><circle cx="109.84" cy="259.73" r="3.25"/><circle cx="110.08" cy="259.68" r="3.25"/><circle cx="110.32" cy="259.63" r="3.25"/><circle cx="110.55" cy="259.58" r="3.25"/><circle cx="110.79" cy="259.53" r="3.25"/><circle cx="111.03" cy="259.48" r="3.25"/><circle cx="111.27" cy="259.43" r="3.25"/><circle cx="111.51" cy="259.38" r="3.25"/><circle cx="111.75" cy="259.33" r="3.25"/><circle cx="111.99" cy="259.28" r="3.25"/><circle cx="112.22" cy="259.23" r="3.25"/><circle cx="112.46" cy="259.19" r="3.25"/><circle cx="112.7" cy="259.14" r="3.25"/><circle cx="112.94" cy="259.09" r="3.25"/><circle cx="113.18" cy="259.05" r="3.25"/><circle cx="113.42" cy="259" r="3.25"/><circle cx="113.66" cy="258.96" r="3.25"/><circle cx="113.89" cy="258.91" r="3.25"/><circle cx="114.13" cy="258.87" r="3.25"/><circle cx="114.37" cy="258.82" r="3.25"/><circle cx="114.61" cy="258.78" r="3.25"/><circle cx="114.85" cy="258.74" r="3.25"/><circle cx="115.09" cy="258.69" r="3.25"/><circle cx="115.33" cy="258.65" r="3.25"/><circle cx="115.57" cy="258.61" r="3.25"/><circle cx="115.8" cy="258.57" r="3.25"/><circle cx="116.04" cy="258.53" r="3.25"/><circle cx="116.28" cy="258.49" r="3.25"/><circle cx="116.52" cy="258.45" r="3.25"/><circle cx="116.76" cy="258.41" r="3.25"/><circle cx="117" cy="258.37" r="3.25"/><circle cx="117.24" cy="258.33" r="3.25"/><circle cx="117.47" cy="258.29" r="3.25"/><circle cx="117.71" cy="258.25" r="3.25"/><circle cx="117.95" cy="258.21" r="3.25"/><circle cx="118.19" cy="258.17" r="3.25"/><circle cx="118.43" cy="258.14" r="3.25"/><circle cx="118.67" cy="258.1" r="3.25"/><circle cx="118.91" cy="258.06" r="3.25"/><circle cx="119.14" cy="258.02" r="3.25"/><circle cx="119.38" cy="257.99" r="3.25"/><circle cx="119.62" cy="257.95" r="3.25"/><circle cx="119.86" cy="257.92" r="3.25"/><circle cx="120.1" cy="257.88" r="3.25"/><circle cx="120.34" cy="257.85" r="3.25"/><circle cx="120.58" cy="257.81" r="3.25"/><circle cx="120.81" cy="257.78" r="3.25"/><circle cx="121.05" cy="257.74" r="3.25"/><circle cx="121.29" cy="257.71" r="3.25"/><circle cx="121.53" cy="257.67" r="3.25"/><circle cx="121.77" cy="257.64" r="3.25"/><circle cx="122.01" cy="257.61" r="3.25"/><circle cx="122.25" cy="257.57" r="3.25"/><circle cx="122.48" cy="257.54" r="3.25"/><circle cx="122.72" cy="257.51" r="3.25"/><circle cx="122.96" cy="257.48" r="3.25"/><circle cx="123.2" cy="257.45" r="3.25"/><circle cx="123.44" cy="257.41" r="3.25"/><circle cx="123.68" cy="257.38" r="3.25"/><circle cx="123.92" cy="257.35" r="3.25"/><circle cx="124.15" cy="257.32" r="3.25"/><circle cx="124.39" cy="257.29" r="3.25"/><circle cx="124.63" cy="257.26" r="3.25"/><circle cx="124.87" cy="257.23" r="3.25"/><circle cx="125.11" cy="257.2" r="3.25"/><circle cx="125.35" cy="257.17" r="3.25"/><circle cx="125.59" cy="257.14" r="3.25"/><circle cx="125.83" cy="257.11" r="3.25"/><circle cx="126.06" cy="257.08" r="3.25"/><circle cx="126.3" cy="257.05" r="3.25"/><circle cx="126.54" cy="257.02" r="3.25"/><circle cx="126.78" cy="256.99" r="3.25"/><circle cx="127.02" cy="256.97" r="3.25"/><circle cx="127.26" cy="256.94" r="3.25"/><circle cx="127.5" cy="256.91" r="3.25"/><circle cx="127.73" cy="256.88" r="3.25"/><circle cx="127.97" cy="256.85" r="3.25"/><circle cx="128.21" cy="256.83" r="3.25"/><circle cx="128.45" cy="256.8" r="3.25"/><circle cx="128.69" cy="256.77" r="3.25"/><circle cx="128.93" cy="256.75" r="3.25"/><circle cx="129.17" cy="256.72" r="3.25"/><circle cx="129.4" cy="256.69" r="3.25"/><circle cx="129.64" cy="256.67" r="3.25"/><circle cx="129.88" cy="256.64" r="3.25"/><circle cx="130.12" cy="256.61" r="3.25"/><circle cx="130.36" cy="256.59" r="3.25"/><circle cx="130.6" cy="256.56" r="3.25"/><circle cx="130.84" cy="256.54" r="3.25"/><circle cx="131.07" cy="256.51" r="3.25"/><circle cx="131.31" cy="256.49" r="3.25"/><circle cx="131.55" cy="256.46" r="3.25"/><circle cx="131.79" cy="256.44" r="3.25"/><circle cx="132.03" cy="256.41" r="3.25"/><circle cx="132.27" cy="256.39" r="3.25"/><circle cx="132.51" cy="256.36" r="3.25"/><circle cx="132.74" cy="256.34" r="3.25"/><circle cx="132.98" cy="256.31" r="3.25"/><circle cx="133.22" cy="256.29" r="3.25"/><circle cx="133.46" cy="256.27" r="3.25"/><circle cx="133.7" cy="256.24" r="3.25"/><circle cx="133.94" cy="256.22" r="3.25"/><circle cx="134.18" cy="256.19" r="3.25"/><circle cx="134.41" cy="256.17" r="3.25"/><circle cx="134.65" cy="256.15" r="3.25"/><circle cx="134.89" cy="256.12" r="3.25"/><circle cx="135.13" cy="256.1" r="3.25"/><circle cx="135.37" cy="256.08" r="3.25"/><circle cx="135.61" cy="256.06" r="3.25"/><circle cx="135.85" cy="256.03" r="3.25"/><circle cx="136.08" cy="256.01" r="3.25"/><circle cx="136.32" cy="255.99" r="3.25"/><circle cx="136.56" cy="255.97" r="3.25"/><circle cx="136.8" cy="255.94" r="3.25"/><circle cx="137.04" cy="255.92" r="3.25"/><circle cx="137.28" cy="255.9" r="3.25"/><circle cx="137.52" cy="255.88" r="3.25"/><circle cx="137.75" cy="255.86" r="3.25"/><circle cx="137.99" cy="255.84" r="3.25"/><circle cx="138.23" cy="255.81" r="3.25"/><circle cx="138.47" cy="255.79" r="3.25"/><circle cx="138.71" cy="255.77" r="3.25"/><circle cx="138.95" cy="255.75" r="3.25"/><circle cx="139.19" cy="255.73" r="3.25"/><circle cx="139.43" cy="255.71" r="3.25"/><circle cx="139.66" cy="255.69" r="3.25"/><circle cx="139.9" cy="255.67" r="3.25"/><circle cx="140.14" cy="255.65" r="3.25"/><circle cx="140.38" cy="255.63" r="3.25"/></g><g fill="#fff" stroke="#0000ff" stroke-width="0.65" stroke-opacity="0.75"><circle cx="141.33" cy="255.54" r="3.25"/><circle cx="143.72" cy="255.35" r="3.25"/><circle cx="146.11" cy="255.16" r="3.25"/><circle cx="148.49" cy="254.97" r="3.25"/><circle cx="150.88" cy="254.8" r="3.25"/><circle cx="153.26" cy="254.63" r="3.25"/><circle cx="155.65" cy="254.46" r="3.25"/><circle cx="158.04" cy="254.3" r="3.25"/><circle cx="160.42" cy="254.14" r="3.25"/><circle cx="162.81" cy="253.99" r="3.25"/><circle cx="165.19" cy="253.84" r="3.25"/><circle cx="167.58" cy="253.69" r="3.25"/><circle cx="169.97" cy="253.55" r="3.25"/><circle cx="172.35" cy="253.4" r="3.25"/><circle cx="174.74" cy="253.26" r="3.25"/><circle cx="177.12" cy="253.13" r="3.25"/><circle cx="179.51" cy="252.99" r="3.25"/><circle cx="181.9" cy="252.86" r="3.25"/><circle cx="184.28" cy="252.72" r="3.25"/><circle cx="186.67" cy="252.59" r="3.25"/><circle cx="189.05" cy="252.46" r="3.25"/><circle cx="191.44" cy="252.33" r="3.25"/><circle cx="193.83" cy="252.21" r="3.25"/><circle cx="196.21" cy="252.08" r="3.25"/><circle cx="198.6" cy="251.96" r="3.25"/><circle cx="200.98" cy="251.84" r="3.25"/><circle cx="203.37" cy="251.72" r="3.25"/><circle cx="205.76" cy="251.6" r="3.25"/><circle cx="208.14" cy="251.48" r="3.25"/><circle cx="210.53" cy="251.36" r="3.25"/><circle cx="212.91" cy="251.24" r="3.25"/><circle cx="215.3" cy="251.13" r="3.25"/><circle cx="217.69" cy="251.01" r="3.25"/><circle cx="220.07" cy="250.9" r="3.25"/><circle cx="222.46" cy="250.78" r="3.25"/><circle cx="224.84" cy="250.67" r="3.25"/><circle cx="227.23" cy="250.56" r="3.25"/><circle cx="229.62" cy="250.45" r="3.25"/><circle cx="232" cy="250.34" r="3.25"/><circle cx="234.39" cy="250.24" r="3.25"/><circle cx="236.77" cy="250.13" r="3.25"/><circle cx="239.16" cy="250.02" r="3.25"/><circle cx="241.55" cy="249.92" r="3.25"/><circle cx="243.93" cy="249.81" r="3.25"/><circle cx="246.32" cy="249.71" r="3.25"/><circle cx="248.7" cy="249.61" r="3.25"/><circle cx="251.09" cy="249.51" r="3.25"/><circle cx="253.48" cy="249.4" r="3.25"/><circle cx="255.86" cy="249.3" r="3.25"/><circle cx="258.25" cy="249.21" r="3.25"/><circle cx="260.63" cy="249.11" r="3.25"/><circle cx="263.02" cy="249.01" r="3.25"/><circle cx="265.41" cy="248.91" r="3.25"/><circle cx="267.79" cy="248.82" r="3.25"/><circle cx="270.18" cy="248.72" r="3.25"/><circle cx="272.56" cy="248.63" r="3.25"/><circle cx="274.95" cy="248.53" r="3.25"/><circle cx="277.34" cy="248.44" r="3.25"/><circle cx="279.72" cy="248.35" r="3.25"/><circle cx="282.11" cy="248.26" r="3.25"/><circle cx="284.49" cy="248.17" r="3.25"/><circle cx="286.88" cy="248.08" r="3.25"/><circle cx="289.27" cy="247.99" r="3.25"/><circle cx="291.65" cy="247.9" r="3.25"/><circle cx="294.04" cy="247.81" r="3.25"/><circle cx="296.42" cy="247.73" r="3.25"/><circle cx="298.81" cy="247.64" r="3.25"/><circle cx="301.2" cy="247.56" r="3.25"/><circle cx="303.58" cy="247.47" r="3.25"/><circle cx="305.97" cy="247.39" r="3.25"/><circle cx="308.35" cy="247.3" r="3.25"/><circle cx="310.74" cy="247.22" r="3.25"/><circle cx="313.13" cy="247.14" r="3.25"/><circle cx="315.51" cy="247.06" r="3.25"/><circle cx="317.9" cy="246.98" r="3.25"/><circle cx="320.28" cy="246.9" r="3.25"/><circle cx="322.67" cy="246.82" r="3.25"/><circle cx="325.06" cy="246.74" r="3.25"/><circle cx="327.44" cy="246.66" r="3.25"/><circle cx="329.83" cy="246.59" r="3.25"/><circle cx="332.21" cy="246.51" r="3.25"/><circle cx="334.6" cy="246.43" r="3.25"/></g><path d="M88.05 276.5v-4.8M88.05 13.4v4.8M96 276.5v-9.6M96 13.4v9.6M103.95 276.5v-4.8M103.95 13.4v4.8M111.91 276.5v-4.8M111.91 13.4v4.8M119.86 276.5v-4.8M119.86 13.4v4.8M127.81 276.5v-4.8M127.81 13.4v4.8M135.77 276.5v-4.8M135.77 13.4v4.8M143.72 276.5v-9.6M143.72 13.4v9.6M151.67 276.5v-4.8M151.67 13.4v4.8M159.63 276.5v-4.8M159.63 13.4v4.8M167.58 276.5v-4.8M167.58 13.4v4.8M175.53 276.5v-4.8M175.53 13.4v4.8M183.49 276.5v-4.8M183.49 13.4v4.8M191.44 276.5v-9.6M191.44 13.4v9.6M199.39 276.5v-4.8M199.39 13.4v4.8M207.35 276.5v-4.8M207.35 13.4v4.8M215.3 276.5v-4.8M215.3 13.4v4.8M223.25 276.5v-4.8M223.25 13.4v4.8M231.21 276.5v-4.8M231.21 13.4v4.8M239.16 276.5v-9.6M239.16 13.4v9.6M247.11 276.5v-4.8M247.11 13.4v4.8M255.07 276.5v-4.8M255.07 13.4v4.8M263.02 276.5v-4.8M263.02 13.4v4.8M270.97 276.5v-4.8M270.97 13.4v4.8M278.93 276.5v-4.8M278.93 13.4v4.8M286.88 276.5v-9.6M286.88 13.4v9.6M294.83 276.5v-4.8M294.83 13.4v4.8M302.79 276.5v-4.8M302.79 13.4v4.8M310.74 276.5v-4.8M310.74 13.4v4.8M318.69 276.5v-4.8M318.69 13.4v4.8M326.65 276.5v-4.8M326.65 13.4v4.8M334.6 276.5v-9.6M334.6 13.4v9.6M342.55 276.5v-4.8M342.55 13.4v4.8M84.2 272.35h4.8M346.6 272.35h-4.8M84.2 264h9.6M346.6 264h-9.6M84.2 255.65h4.8M346.6 255.65h-4.8M84.2 247.29h4.8M346.6 247.29h-4.8M84.2 238.94h4.8M346.6 238.94h-4.8M84.2 230.59h4.8M346.6 230.59h-4.8M84.2 222.23h4.8M346.6 222.23h-4.8M84.2 213.88h9.6M346.6 213.88h-9.6M84.2 205.53h4.8M346.6 205.53h-4.8M84.2 197.17h4.8M346.6 197.17h-4.8M84.2 188.82h4.8M346.6 188.82h-4.8M84.2 180.47h4.8M346.6 180.47h-4.8M84.2 172.11h4.8M346.6 172.11h-4.8M84.2 163.76h9.6M346.6 163.76h-9.6M84.2 155.41h4.8M346.6 155.41h-4.8M84.2 147.05h4.8M346.6 147.05h-4.8M84.2 138.7h4.8M346.6 138.7h-4.8M84.2 130.35h4.8M346.6 130.35h-4.8M84.2 121.99h4.8M346.6 121.99h-4.8M84.2 113.64h9.6M346.6 113.64h-9.6M84.2 105.29h4.8M346.6 105.29h-4.8M84.2 96.93h4.8M346.6 96.93h-4.8M84.2 88.58h4.8M346.6 88.58h-4.8M84.2 80.23h4.8M346.6 80.23h-4.8M84.2 71.87h4.8M346.6 71.87h-4.8M84.2 63.52h9.6M346.6 63.52h-9.6M84.2 55.17h4.8M346.6 55.17h-4.8M84.2 46.81h4.8M346.6 46.81h-4.8M84.2 38.46h4.8M346.6 38.46h-4.8M84.2 30.11h4.8M346.6 30.11h-4.8M84.2 21.75h4.8M346.6 21.75h-4.8M84.2 13.4h9.6M346.6 13.4h-9.6" stroke="#000" stroke-width="2.35" fill="none"/><rect x="84.2" y="13.4" width="262.4" height="263.1" fill="none" stroke="#000" stroke-width="2.6"/><g font-family="Liberation Sans" font-weight="bold" font-size="18.7" fill="#000"><text x="73.9" y="269.7" text-anchor="end">0</text><text x="73.9" y="219.58" text-anchor="end">200</text><text x="73.9" y="169.46" text-anchor="end">400</text><text x="73.9" y="119.34" text-anchor="end">600</text><text x="73.9" y="69.22" text-anchor="end">800</text><text x="73.9" y="19.1" text-anchor="end">1000</text><text x="96" y="301.8" text-anchor="middle">0</text><text x="143.72" y="301.8" text-anchor="middle">200</text><text x="191.44" y="301.8" text-anchor="middle">400</text><text x="239.16" y="301.8" text-anchor="middle">600</text><text x="286.88" y="301.8" text-anchor="middle">800</text><text x="334.6" y="301.8" text-anchor="middle">1000</text><text x="215.4" y="326.6" text-anchor="middle">Time [s]</text><text transform="translate(22.4 145.2) rotate(-90)" text-anchor="middle" font-size="18.6">G',G'' [Pa]</text></g><rect x="101.2" y="65.6" width="6.6" height="6.6" fill="#ff0000"/><rect x="101.7" y="83.4" width="5.6" height="5.6" fill="#fff" stroke="#ff0000" stroke-width="0.7" stroke-opacity="0.75"/><circle cx="104.5" cy="103.4" r="3.7" fill="#0000ff"/><circle cx="104.5" cy="120.5" r="3.2" fill="#fff" stroke="#0000ff" stroke-width="0.7" stroke-opacity="0.75"/><g font-family="Liberation Sans" font-weight="bold" font-size="13.3" fill="#000"><text x="123.4" y="73.2">G'</text><text x="123.4" y="90.5">G''</text><text x="123.4" y="107.7">G'</text><text x="123.4" y="124.8">G''</text></g><g fill="#ff0000" stroke="none"><rect x="471.9" y="259.1" width="6.6" height="6.6"/><rect x="472.14" y="258.53" width="6.6" height="6.6"/><rect x="472.37" y="257.97" width="6.6" height="6.6"/><rect x="472.61" y="257.4" width="6.6" height="6.6"/><rect x="472.85" y="256.85" width="6.6" height="6.6"/><rect x="473.08" y="256.29" width="6.6" height="6.6"/><rect x="473.32" y="255.74" width="6.6" height="6.6"/><rect x="473.55" y="255.19" width="6.6" height="6.6"/><rect x="473.79" y="254.64" width="6.6" height="6.6"/><rect x="474.03" y="254.09" width="6.6" height="6.6"/><rect x="474.26" y="253.55" width="6.6" height="6.6"/><rect x="474.5" y="253.01" width="6.6" height="6.6"/><rect x="474.74" y="252.48" width="6.6" height="6.6"/><rect x="474.97" y="251.94" width="6.6" height="6.6"/><rect x="475.21" y="251.41" width="6.6" height="6.6"/><rect x="475.45" y="250.88" width="6.6" height="6.6"/><rect x="475.68" y="250.36" width="6.6" height="6.6"/><rect x="475.92" y="249.83" width="6.6" height="6.6"/><rect x="476.16" y="249.31" width="6.6" height="6.6"/><rect x="476.39" y="248.8" width="6.6" height="6.6"/><rect x="476.63" y="248.28" width="6.6" height="6.6"/><rect x="476.86" y="247.77" width="6.6" height="6.6"/><rect x="477.1" y="247.26" width="6.6" height="6.6"/><rect x="477.34" y="246.75" width="6.6" height="6.6"/><rect x="477.57" y="246.25" width="6.6" height="6.6"/><rect x="477.81" y="245.74" width="6.6" height="6.6"/><rect x="478.05" y="245.24" width="6.6" height="6.6"/><rect x="478.28" y="244.75" width="6.6" height="6.6"/><rect x="478.52" y="244.25" width="6.6" height="6.6"/><rect x="478.76" y="243.76" width="6.6" height="6.6"/><rect x="478.99" y="243.27" width="6.6" height="6.6"/><rect x="479.23" y="242.78" width="6.6" height="6.6"/><rect x="479.46" y="242.3" width="6.6" height="6.6"/><rect x="479.7" y="241.81" width="6.6" height="6.6"/><rect x="479.94" y="241.33" width="6.6" height="6.6"/><rect x="480.17" y="240.85" width="6.6" height="6.6"/><rect x="480.41" y="240.38" width="6.6" height="6.6"/><rect x="480.65" y="239.91" width="6.6" height="6.6"/><rect x="480.88" y="239.43" width="6.6" height="6.6"/><rect x="481.12" y="238.96" width="6.6" height="6.6"/><rect x="481.36" y="238.5" width="6.6" height="6.6"/><rect x="481.59" y="238.03" width="6.6" height="6.6"/><rect x="481.83" y="237.57" width="6.6" height="6.6"/><rect x="482.07" y="237.11" width="6.6" height="6.6"/><rect x="482.3" y="236.65" width="6.6" height="6.6"/><rect x="482.54" y="236.2" width="6.6" height="6.6"/><rect x="482.77" y="235.74" width="6.6" height="6.6"/><rect x="483.01" y="235.29" width="6.6" height="6.6"/><rect x="483.25" y="234.84" width="6.6" height="6.6"/><rect x="483.48" y="234.39" width="6.6" height="6.6"/><rect x="483.72" y="233.95" width="6.6" height="6.6"/><rect x="483.96" y="233.5" width="6.6" height="6.6"/><rect x="484.19" y="233.06" width="6.6" height="6.6"/><rect x="484.43" y="232.62" width="6.6" height="6.6"/><rect x="484.67" y="232.18" width="6.6" height="6.6"/><rect x="484.9" y="231.75" width="6.6" height="6.6"/><rect x="485.14" y="231.31" width="6.6" height="6.6"/><rect x="485.37" y="230.88" width="6.6" height="6.6"/><rect x="485.61" y="230.45" width="6.6" height="6.6"/><rect x="485.85" y="230.03" width="6.6" height="6.6"/><rect x="486.08" y="229.6" width="6.6" height="6.6"/><rect x="486.32" y="229.18" width="6.6" height="6.6"/><rect x="486.56" y="228.75" width="6.6" height="6.6"/><rect x="486.79" y="228.33" width="6.6" height="6.6"/><rect x="487.03" y="227.92" width="6.6" height="6.6"/><rect x="487.27" y="227.5" width="6.6" height="6.6"/><rect x="487.5" y="227.08" width="6.6" height="6.6"/><rect x="487.74" y="226.67" width="6.6" height="6.6"/><rect x="487.98" y="226.26" width="6.6" height="6.6"/><rect x="488.21" y="225.85" width="6.6" height="6.6"/><rect x="488.45" y="225.44" width="6.6" height="6.6"/><rect x="488.68" y="225.04" width="6.6" height="6.6"/><rect x="488.92" y="224.63" width="6.6" height="6.6"/><rect x="489.16" y="224.23" width="6.6" height="6.6"/><rect x="489.39" y="223.83" width="6.6" height="6.6"/><rect x="489.63" y="223.43" width="6.6" height="6.6"/><rect x="489.87" y="223.04" width="6.6" height="6.6"/><rect x="490.1" y="222.64" width="6.6" height="6.6"/><rect x="490.34" y="222.25" width="6.6" height="6.6"/><rect x="490.58" y="221.85" width="6.6" height="6.6"/><rect x="490.81" y="221.46" width="6.6" height="6.6"/><rect x="491.05" y="221.07" width="6.6" height="6.6"/><rect x="491.28" y="220.69" width="6.6" height="6.6"/><rect x="491.52" y="220.3" width="6.6" height="6.6"/><rect x="491.76" y="219.92" width="6.6" height="6.6"/><rect x="491.99" y="219.54" width="6.6" height="6.6"/><rect x="492.23" y="219.15" width="6.6" height="6.6"/><rect x="492.47" y="218.77" width="6.6" height="6.6"/><rect x="492.7" y="218.4" width="6.6" height="6.6"/><rect x="492.94" y="218.02" width="6.6" height="6.6"/><rect x="493.18" y="217.65" width="6.6" height="6.6"/><rect x="493.41" y="217.27" width="6.6" height="6.6"/><rect x="493.65" y="216.9" width="6.6" height="6.6"/><rect x="493.89" y="216.53" width="6.6" height="6.6"/><rect x="494.12" y="216.16" width="6.6" height="6.6"/><rect x="494.36" y="215.8" width="6.6" height="6.6"/><rect x="494.59" y="215.43" width="6.6" height="6.6"/><rect x="494.83" y="215.06" width="6.6" height="6.6"/><rect x="495.07" y="214.7" width="6.6" height="6.6"/><rect x="495.3" y="214.34" width="6.6" height="6.6"/><rect x="495.54" y="213.98" width="6.6" height="6.6"/><rect x="495.78" y="213.62" width="6.6" height="6.6"/><rect x="496.01" y="213.26" width="6.6" height="6.6"/><rect x="496.25" y="212.91" width="6.6" height="6.6"/><rect x="496.49" y="212.55" width="6.6" height="6.6"/><rect x="496.72" y="212.2" width="6.6" height="6.6"/><rect x="496.96" y="211.85" width="6.6" height="6.6"/><rect x="497.19" y="211.5" width="6.6" height="6.6"/><rect x="497.43" y="211.15" width="6.6" height="6.6"/><rect x="497.67" y="210.8" width="6.6" height="6.6"/><rect x="497.9" y="210.46" width="6.6" height="6.6"/><rect x="498.14" y="210.11" width="6.6" height="6.6"/><rect x="498.38" y="209.77" width="6.6" height="6.6"/><rect x="498.61" y="209.42" width="6.6" height="6.6"/><rect x="498.85" y="209.08" width="6.6" height="6.6"/><rect x="499.09" y="208.74" width="6.6" height="6.6"/><rect x="499.32" y="208.4" width="6.6" height="6.6"/><rect x="499.56" y="208.07" width="6.6" height="6.6"/><rect x="499.8" y="207.73" width="6.6" height="6.6"/><rect x="500.03" y="207.39" width="6.6" height="6.6"/><rect x="500.27" y="207.06" width="6.6" height="6.6"/><rect x="500.5" y="206.73" width="6.6" height="6.6"/><rect x="500.74" y="206.4" width="6.6" height="6.6"/><rect x="500.98" y="206.07" width="6.6" height="6.6"/><rect x="501.21" y="205.74" width="6.6" height="6.6"/><rect x="501.45" y="205.41" width="6.6" height="6.6"/><rect x="501.69" y="205.08" width="6.6" height="6.6"/><rect x="501.92" y="204.76" width="6.6" height="6.6"/><rect x="502.16" y="204.43" width="6.6" height="6.6"/><rect x="502.4" y="204.11" width="6.6" height="6.6"/><rect x="502.63" y="203.79" width="6.6" height="6.6"/><rect x="502.87" y="203.47" width="6.6" height="6.6"/><rect x="503.1" y="203.15" width="6.6" height="6.6"/><rect x="503.34" y="202.83" width="6.6" height="6.6"/><rect x="503.58" y="202.51" width="6.6" height="6.6"/><rect x="503.81" y="202.19" width="6.6" height="6.6"/><rect x="504.05" y="201.88" width="6.6" height="6.6"/><rect x="504.29" y="201.57" width="6.6" height="6.6"/><rect x="504.52" y="201.25" width="6.6" height="6.6"/><rect x="504.76" y="200.94" width="6.6" height="6.6"/><rect x="505" y="200.63" width="6.6" height="6.6"/><rect x="505.23" y="200.32" width="6.6" height="6.6"/><rect x="505.47" y="200.01" width="6.6" height="6.6"/><rect x="505.71" y="199.7" width="6.6" height="6.6"/><rect x="505.94" y="199.39" width="6.6" height="6.6"/><rect x="506.18" y="199.09" width="6.6" height="6.6"/><rect x="506.41" y="198.78" width="6.6" height="6.6"/><rect x="506.65" y="198.48" width="6.6" height="6.6"/><rect x="506.89" y="198.18" width="6.6" height="6.6"/><rect x="507.12" y="197.88" width="6.6" height="6.6"/><rect x="507.36" y="197.57" width="6.6" height="6.6"/><rect x="507.6" y="197.27" width="6.6" height="6.6"/><rect x="507.83" y="196.98" width="6.6" height="6.6"/><rect x="508.07" y="196.68" width="6.6" height="6.6"/><rect x="508.31" y="196.38" width="6.6" height="6.6"/><rect x="508.54" y="196.08" width="6.6" height="6.6"/><rect x="508.78" y="195.79" width="6.6" height="6.6"/><rect x="509.01" y="195.5" width="6.6" height="6.6"/><rect x="509.25" y="195.2" width="6.6" height="6.6"/><rect x="509.49" y="194.91" width="6.6" height="6.6"/><rect x="509.72" y="194.62" width="6.6" height="6.6"/><rect x="509.96" y="194.33" width="6.6" height="6.6"/><rect x="510.2" y="194.04" width="6.6" height="6.6"/><rect x="510.43" y="193.75" width="6.6" height="6.6"/><rect x="510.67" y="193.46" width="6.6" height="6.6"/><rect x="510.91" y="193.18" width="6.6" height="6.6"/><rect x="511.14" y="192.89" width="6.6" height="6.6"/><rect x="511.38" y="192.6" width="6.6" height="6.6"/><rect x="511.62" y="192.32" width="6.6" height="6.6"/><rect x="511.85" y="192.04" width="6.6" height="6.6"/><rect x="512.09" y="191.75" width="6.6" height="6.6"/><rect x="512.32" y="191.47" width="6.6" height="6.6"/><rect x="512.56" y="191.19" width="6.6" height="6.6"/><rect x="512.8" y="190.91" width="6.6" height="6.6"/><rect x="513.03" y="190.63" width="6.6" height="6.6"/><rect x="513.27" y="190.35" width="6.6" height="6.6"/><rect x="513.51" y="190.08" width="6.6" height="6.6"/><rect x="513.74" y="189.8" width="6.6" height="6.6"/><rect x="513.98" y="189.52" width="6.6" height="6.6"/><rect x="514.22" y="189.25" width="6.6" height="6.6"/><rect x="514.45" y="188.98" width="6.6" height="6.6"/><rect x="514.69" y="188.7" width="6.6" height="6.6"/><rect x="514.92" y="188.43" width="6.6" height="6.6"/><rect x="515.16" y="188.16" width="6.6" height="6.6"/><rect x="515.4" y="187.89" width="6.6" height="6.6"/><rect x="515.63" y="187.62" width="6.6" height="6.6"/><rect x="515.87" y="187.35" width="6.6" height="6.6"/><rect x="516.82" y="186.28" width="6.6" height="6.6"/><rect x="519.18" y="183.65" width="6.6" height="6.6"/><rect x="521.54" y="181.1" width="6.6" height="6.6"/><rect x="523.91" y="178.61" width="6.6" height="6.6"/><rect x="526.27" y="176.18" width="6.6" height="6.6"/><rect x="528.64" y="173.82" width="6.6" height="6.6"/><rect x="531" y="171.5" width="6.6" height="6.6"/><rect x="533.36" y="169.24" width="6.6" height="6.6"/><rect x="535.73" y="167.03" width="6.6" height="6.6"/><rect x="538.09" y="164.86" width="6.6" height="6.6"/><rect x="540.46" y="162.73" width="6.6" height="6.6"/><rect x="542.82" y="160.65" width="6.6" height="6.6"/><rect x="545.18" y="158.61" width="6.6" height="6.6"/><rect x="547.55" y="156.6" width="6.6" height="6.6"/><rect x="549.91" y="154.63" width="6.6" height="6.6"/><rect x="552.28" y="152.69" width="6.6" height="6.6"/><rect x="554.64" y="150.78" width="6.6" height="6.6"/><rect x="557" y="148.9" width="6.6" height="6.6"/><rect x="559.37" y="147.06" width="6.6" height="6.6"/><rect x="561.73" y="145.24" width="6.6" height="6.6"/><rect x="564.1" y="143.45" width="6.6" height="6.6"/><rect x="566.46" y="141.68" width="6.6" height="6.6"/><rect x="568.82" y="139.94" width="6.6" height="6.6"/><rect x="571.19" y="138.22" width="6.6" height="6.6"/><rect x="573.55" y="136.53" width="6.6" height="6.6"/><rect x="575.92" y="134.85" width="6.6" height="6.6"/><rect x="578.28" y="133.2" width="6.6" height="6.6"/><rect x="580.64" y="131.57" width="6.6" height="6.6"/><rect x="583.01" y="129.96" width="6.6" height="6.6"/><rect x="585.37" y="128.38" width="6.6" height="6.6"/><rect x="587.74" y="126.8" width="6.6" height="6.6"/><rect x="590.1" y="125.25" width="6.6" height="6.6"/><rect x="592.46" y="123.72" width="6.6" height="6.6"/><rect x="594.83" y="122.2" width="6.6" height="6.6"/><rect x="597.19" y="120.7" width="6.6" height="6.6"/><rect x="599.56" y="119.22" width="6.6" height="6.6"/><rect x="601.92" y="117.76" width="6.6" height="6.6"/><rect x="604.28" y="116.31" width="6.6" height="6.6"/><rect x="606.65" y="114.88" width="6.6" height="6.6"/><rect x="609.01" y="113.46" width="6.6" height="6.6"/><rect x="611.38" y="112.05" width="6.6" height="6.6"/><rect x="613.74" y="110.67" width="6.6" height="6.6"/><rect x="616.1" y="109.29" width="6.6" height="6.6"/><rect x="618.47" y="107.93" width="6.6" height="6.6"/><rect x="620.83" y="106.59" width="6.6" height="6.6"/><rect x="623.2" y="105.26" width="6.6" height="6.6"/><rect x="625.56" y="103.94" width="6.6" height="6.6"/><rect x="627.92" y="102.64" width="6.6" height="6.6"/><rect x="630.29" y="101.35" width="6.6" height="6.6"/><rect x="632.65" y="100.07" width="6.6" height="6.6"/><rect x="635.02" y="98.81" width="6.6" height="6.6"/><rect x="637.38" y="97.56" width="6.6" height="6.6"/><rect x="639.74" y="96.32" width="6.6" height="6.6"/><rect x="642.11" y="95.09" width="6.6" height="6.6"/><rect x="644.47" y="93.87" width="6.6" height="6.6"/><rect x="646.84" y="92.67" width="6.6" height="6.6"/><rect x="649.2" y="91.48" width="6.6" height="6.6"/><rect x="651.56" y="90.3" width="6.6" height="6.6"/><rect x="653.93" y="89.14" width="6.6" height="6.6"/><rect x="656.29" y="87.98" width="6.6" height="6.6"/><rect x="658.66" y="86.83" width="6.6" height="6.6"/><rect x="661.02" y="85.7" width="6.6" height="6.6"/><rect x="663.38" y="84.58" width="6.6" height="6.6"/><rect x="665.75" y="83.47" width="6.6" height="6.6"/><rect x="668.11" y="82.37" width="6.6" height="6.6"/><rect x="670.48" y="81.28" width="6.6" height="6.6"/><rect x="672.84" y="80.2" width="6.6" height="6.6"/><rect x="675.2" y="79.13" width="6.6" height="6.6"/><rect x="677.57" y="78.07" width="6.6" height="6.6"/><rect x="679.93" y="77.02" width="6.6" height="6.6"/><rect x="682.3" y="75.98" width="6.6" height="6.6"/><rect x="684.66" y="74.95" width="6.6" height="6.6"/><rect x="687.02" y="73.93" width="6.6" height="6.6"/><rect x="689.39" y="72.92" width="6.6" height="6.6"/><rect x="691.75" y="71.92" width="6.6" height="6.6"/><rect x="694.12" y="70.93" width="6.6" height="6.6"/><rect x="696.48" y="69.95" width="6.6" height="6.6"/><rect x="698.84" y="68.98" width="6.6" height="6.6"/><rect x="701.21" y="68.02" width="6.6" height="6.6"/><rect x="703.57" y="67.06" width="6.6" height="6.6"/><rect x="705.94" y="66.12" width="6.6" height="6.6"/><rect x="708.3" y="65.18" width="6.6" height="6.6"/></g><g fill="#fff" stroke="#ff0000" stroke-width="0.65" stroke-opacity="1.0"><rect x="472.1" y="259.3" width="6.2" height="6.2"/><rect x="472.57" y="259.03" width="6.2" height="6.2"/><rect x="473.05" y="258.77" width="6.2" height="6.2"/><rect x="473.52" y="258.52" width="6.2" height="6.2"/><rect x="473.99" y="258.27" width="6.2" height="6.2"/><rect x="474.46" y="258.03" width="6.2" height="6.2"/><rect x="474.94" y="257.8" width="6.2" height="6.2"/><rect x="475.41" y="257.58" width="6.2" height="6.2"/><rect x="475.88" y="257.36" width="6.2" height="6.2"/><rect x="476.36" y="257.15" width="6.2" height="6.2"/><rect x="476.83" y="256.94" width="6.2" height="6.2"/><rect x="477.3" y="256.74" width="6.2" height="6.2"/><rect x="477.77" y="256.55" width="6.2" height="6.2"/><rect x="478.25" y="256.36" width="6.2" height="6.2"/><rect x="478.72" y="256.17" width="6.2" height="6.2"/><rect x="479.19" y="255.99" width="6.2" height="6.2"/><rect x="479.66" y="255.82" width="6.2" height="6.2"/><rect x="480.14" y="255.65" width="6.2" height="6.2"/><rect x="480.61" y="255.48" width="6.2" height="6.2"/><rect x="481.08" y="255.32" width="6.2" height="6.2"/><rect x="481.56" y="255.16" width="6.2" height="6.2"/><rect x="482.03" y="255" width="6.2" height="6.2"/><rect x="482.5" y="254.85" width="6.2" height="6.2"/><rect x="482.97" y="254.7" width="6.2" height="6.2"/><rect x="483.45" y="254.56" width="6.2" height="6.2"/><rect x="483.92" y="254.42" width="6.2" height="6.2"/><rect x="484.39" y="254.28" width="6.2" height="6.2"/><rect x="484.87" y="254.15" width="6.2" height="6.2"/><rect x="485.34" y="254.01" width="6.2" height="6.2"/><rect x="485.81" y="253.88" width="6.2" height="6.2"/><rect x="486.28" y="253.76" width="6.2" height="6.2"/><rect x="486.76" y="253.63" width="6.2" height="6.2"/><rect x="487.23" y="253.51" width="6.2" height="6.2"/><rect x="487.7" y="253.39" width="6.2" height="6.2"/><rect x="488.18" y="253.27" width="6.2" height="6.2"/><rect x="488.65" y="253.16" width="6.2" height="6.2"/><rect x="489.12" y="253.05" width="6.2" height="6.2"/><rect x="489.59" y="252.94" width="6.2" height="6.2"/><rect x="490.07" y="252.83" width="6.2" height="6.2"/><rect x="490.54" y="252.72" width="6.2" height="6.2"/><rect x="491.01" y="252.61" width="6.2" height="6.2"/><rect x="491.48" y="252.51" width="6.2" height="6.2"/><rect x="491.96" y="252.41" width="6.2" height="6.2"/><rect x="492.43" y="252.31" width="6.2" height="6.2"/><rect x="492.9" y="252.21" width="6.2" height="6.2"/><rect x="493.38" y="252.11" width="6.2" height="6.2"/><rect x="493.85" y="252.02" width="6.2" height="6.2"/><rect x="494.32" y="251.92" width="6.2" height="6.2"/><rect x="494.79" y="251.83" width="6.2" height="6.2"/><rect x="495.27" y="251.74" width="6.2" height="6.2"/><rect x="495.74" y="251.65" width="6.2" height="6.2"/><rect x="496.21" y="251.56" width="6.2" height="6.2"/><rect x="496.69" y="251.47" width="6.2" height="6.2"/><rect x="497.16" y="251.39" width="6.2" height="6.2"/><rect x="497.63" y="251.3" width="6.2" height="6.2"/><rect x="498.1" y="251.22" width="6.2" height="6.2"/><rect x="498.58" y="251.13" width="6.2" height="6.2"/><rect x="499.05" y="251.05" width="6.2" height="6.2"/><rect x="499.52" y="250.97" width="6.2" height="6.2"/><rect x="500" y="250.89" width="6.2" height="6.2"/><rect x="500.47" y="250.81" width="6.2" height="6.2"/><rect x="500.94" y="250.73" width="6.2" height="6.2"/><rect x="501.41" y="250.65" width="6.2" height="6.2"/><rect x="501.89" y="250.58" width="6.2" height="6.2"/><rect x="502.36" y="250.5" width="6.2" height="6.2"/><rect x="502.83" y="250.42" width="6.2" height="6.2"/><rect x="503.3" y="250.35" width="6.2" height="6.2"/><rect x="503.78" y="250.28" width="6.2" height="6.2"/><rect x="504.25" y="250.2" width="6.2" height="6.2"/><rect x="504.72" y="250.13" width="6.2" height="6.2"/><rect x="505.2" y="250.06" width="6.2" height="6.2"/><rect x="505.67" y="249.99" width="6.2" height="6.2"/><rect x="506.14" y="249.92" width="6.2" height="6.2"/><rect x="506.61" y="249.85" width="6.2" height="6.2"/><rect x="507.09" y="249.78" width="6.2" height="6.2"/><rect x="507.56" y="249.71" width="6.2" height="6.2"/><rect x="508.03" y="249.64" width="6.2" height="6.2"/><rect x="508.51" y="249.57" width="6.2" height="6.2"/><rect x="508.98" y="249.51" width="6.2" height="6.2"/><rect x="509.45" y="249.44" width="6.2" height="6.2"/><rect x="509.92" y="249.37" width="6.2" height="6.2"/><rect x="510.4" y="249.31" width="6.2" height="6.2"/><rect x="510.87" y="249.24" width="6.2" height="6.2"/><rect x="511.34" y="249.18" width="6.2" height="6.2"/><rect x="511.82" y="249.12" width="6.2" height="6.2"/><rect x="512.29" y="249.05" width="6.2" height="6.2"/><rect x="512.76" y="248.99" width="6.2" height="6.2"/><rect x="513.23" y="248.93" width="6.2" height="6.2"/><rect x="513.71" y="248.86" width="6.2" height="6.2"/><rect x="514.18" y="248.8" width="6.2" height="6.2"/><rect x="514.65" y="248.74" width="6.2" height="6.2"/><rect x="515.12" y="248.68" width="6.2" height="6.2"/><rect x="515.6" y="248.62" width="6.2" height="6.2"/><rect x="516.07" y="248.56" width="6.2" height="6.2"/></g><g fill="#fff" stroke="#ff0000" stroke-width="0.65" stroke-opacity="0.75"><rect x="517.02" y="248.44" width="6.2" height="6.2"/><rect x="519.38" y="248.15" width="6.2" height="6.2"/><rect x="521.74" y="247.86" width="6.2" height="6.2"/><rect x="524.11" y="247.59" width="6.2" height="6.2"/><rect x="526.47" y="247.32" width="6.2" height="6.2"/><rect x="528.84" y="247.06" width="6.2" height="6.2"/><rect x="531.2" y="246.8" width="6.2" height="6.2"/><rect x="533.56" y="246.55" width="6.2" height="6.2"/><rect x="535.93" y="246.31" width="6.2" height="6.2"/><rect x="538.29" y="246.07" width="6.2" height="6.2"/><rect x="540.66" y="245.84" width="6.2" height="6.2"/><rect x="543.02" y="245.61" width="6.2" height="6.2"/><rect x="545.38" y="245.38" width="6.2" height="6.2"/><rect x="547.75" y="245.16" width="6.2" height="6.2"/><rect x="550.11" y="244.95" width="6.2" height="6.2"/><rect x="552.48" y="244.74" width="6.2" height="6.2"/><rect x="554.84" y="244.54" width="6.2" height="6.2"/><rect x="557.2" y="244.33" width="6.2" height="6.2"/><rect x="559.57" y="244.14" width="6.2" height="6.2"/><rect x="561.93" y="243.94" width="6.2" height="6.2"/><rect x="564.3" y="243.75" width="6.2" height="6.2"/><rect x="566.66" y="243.57" width="6.2" height="6.2"/><rect x="569.02" y="243.39" width="6.2" height="6.2"/><rect x="571.39" y="243.21" width="6.2" height="6.2"/><rect x="573.75" y="243.03" width="6.2" height="6.2"/><rect x="576.12" y="242.86" width="6.2" height="6.2"/><rect x="578.48" y="242.7" width="6.2" height="6.2"/><rect x="580.84" y="242.53" width="6.2" height="6.2"/><rect x="583.21" y="242.37" width="6.2" height="6.2"/><rect x="585.57" y="242.21" width="6.2" height="6.2"/><rect x="587.94" y="242.06" width="6.2" height="6.2"/><rect x="590.3" y="241.91" width="6.2" height="6.2"/><rect x="592.66" y="241.76" width="6.2" height="6.2"/><rect x="595.03" y="241.61" width="6.2" height="6.2"/><rect x="597.39" y="241.47" width="6.2" height="6.2"/><rect x="599.76" y="241.33" width="6.2" height="6.2"/><rect x="602.12" y="241.19" width="6.2" height="6.2"/><rect x="604.48" y="241.06" width="6.2" height="6.2"/><rect x="606.85" y="240.93" width="6.2" height="6.2"/><rect x="609.21" y="240.8" width="6.2" height="6.2"/><rect x="611.58" y="240.67" width="6.2" height="6.2"/><rect x="613.94" y="240.55" width="6.2" height="6.2"/><rect x="616.3" y="240.43" width="6.2" height="6.2"/><rect x="618.67" y="240.31" width="6.2" height="6.2"/><rect x="621.03" y="240.19" width="6.2" height="6.2"/><rect x="623.4" y="240.08" width="6.2" height="6.2"/><rect x="625.76" y="239.97" width="6.2" height="6.2"/><rect x="628.12" y="239.86" width="6.2" height="6.2"/><rect x="630.49" y="239.75" width="6.2" height="6.2"/><rect x="632.85" y="239.65" width="6.2" height="6.2"/><rect x="635.22" y="239.54" width="6.2" height="6.2"/><rect x="637.58" y="239.44" width="6.2" height="6.2"/><rect x="639.94" y="239.34" width="6.2" height="6.2"/><rect x="642.31" y="239.25" width="6.2" height="6.2"/><rect x="644.67" y="239.15" width="6.2" height="6.2"/><rect x="647.04" y="239.06" width="6.2" height="6.2"/><rect x="649.4" y="238.97" width="6.2" height="6.2"/><rect x="651.76" y="238.88" width="6.2" height="6.2"/><rect x="654.13" y="238.79" width="6.2" height="6.2"/><rect x="656.49" y="238.7" width="6.2" height="6.2"/><rect x="658.86" y="238.62" width="6.2" height="6.2"/><rect x="661.22" y="238.54" width="6.2" height="6.2"/><rect x="663.58" y="238.45" width="6.2" height="6.2"/><rect x="665.95" y="238.37" width="6.2" height="6.2"/><rect x="668.31" y="238.3" width="6.2" height="6.2"/><rect x="670.68" y="238.22" width="6.2" height="6.2"/><rect x="673.04" y="238.15" width="6.2" height="6.2"/><rect x="675.4" y="238.07" width="6.2" height="6.2"/><rect x="677.77" y="238" width="6.2" height="6.2"/><rect x="680.13" y="237.93" width="6.2" height="6.2"/><rect x="682.5" y="237.86" width="6.2" height="6.2"/><rect x="684.86" y="237.79" width="6.2" height="6.2"/><rect x="687.22" y="237.73" width="6.2" height="6.2"/><rect x="689.59" y="237.66" width="6.2" height="6.2"/><rect x="691.95" y="237.6" width="6.2" height="6.2"/><rect x="694.32" y="237.54" width="6.2" height="6.2"/><rect x="696.68" y="237.48" width="6.2" height="6.2"/><rect x="699.04" y="237.42" width="6.2" height="6.2"/><rect x="701.41" y="237.36" width="6.2" height="6.2"/><rect x="703.77" y="237.3" width="6.2" height="6.2"/><rect x="706.14" y="237.24" width="6.2" height="6.2"/><rect x="708.5" y="237.19" width="6.2" height="6.2"/></g><g fill="#0000ff" stroke="none"><circle cx="475.2" cy="262.4" r="3.6"/><circle cx="475.44" cy="262.19" r="3.6"/><circle cx="475.67" cy="261.98" r="3.6"/><circle cx="475.91" cy="261.78" r="3.6"/><circle cx="476.15" cy="261.57" r="3.6"/><circle cx="476.38" cy="261.37" r="3.6"/><circle cx="476.62" cy="261.16" r="3.6"/><circle cx="476.85" cy="260.96" r="3.6"/><circle cx="477.09" cy="260.76" r="3.6"/><circle cx="477.33" cy="260.56" r="3.6"/><circle cx="477.56" cy="260.36" r="3.6"/><circle cx="477.8" cy="260.17" r="3.6"/><circle cx="478.04" cy="259.97" r="3.6"/><circle cx="478.27" cy="259.78" r="3.6"/><circle cx="478.51" cy="259.58" r="3.6"/><circle cx="478.75" cy="259.39" r="3.6"/><circle cx="478.98" cy="259.2" r="3.6"/><circle cx="479.22" cy="259.01" r="3.6"/><circle cx="479.46" cy="258.82" r="3.6"/><circle cx="479.69" cy="258.63" r="3.6"/><circle cx="479.93" cy="258.44" r="3.6"/><circle cx="480.16" cy="258.26" r="3.6"/><circle cx="480.4" cy="258.07" r="3.6"/><circle cx="480.64" cy="257.89" r="3.6"/><circle cx="480.87" cy="257.71" r="3.6"/><circle cx="481.11" cy="257.53" r="3.6"/><circle cx="481.35" cy="257.35" r="3.6"/><circle cx="481.58" cy="257.17" r="3.6"/><circle cx="481.82" cy="256.99" r="3.6"/><circle cx="482.06" cy="256.81" r="3.6"/><circle cx="482.29" cy="256.63" r="3.6"/><circle cx="482.53" cy="256.46" r="3.6"/><circle cx="482.76" cy="256.28" r="3.6"/><circle cx="483" cy="256.11" r="3.6"/><circle cx="483.24" cy="255.94" r="3.6"/><circle cx="483.47" cy="255.77" r="3.6"/><circle cx="483.71" cy="255.59" r="3.6"/><circle cx="483.95" cy="255.42" r="3.6"/><circle cx="484.18" cy="255.26" r="3.6"/><circle cx="484.42" cy="255.09" r="3.6"/><circle cx="484.66" cy="254.92" r="3.6"/><circle cx="484.89" cy="254.75" r="3.6"/><circle cx="485.13" cy="254.59" r="3.6"/><circle cx="485.37" cy="254.42" r="3.6"/><circle cx="485.6" cy="254.26" r="3.6"/><circle cx="485.84" cy="254.1" r="3.6"/><circle cx="486.07" cy="253.94" r="3.6"/><circle cx="486.31" cy="253.77" r="3.6"/><circle cx="486.55" cy="253.61" r="3.6"/><circle cx="486.78" cy="253.45" r="3.6"/><circle cx="487.02" cy="253.3" r="3.6"/><circle cx="487.26" cy="253.14" r="3.6"/><circle cx="487.49" cy="252.98" r="3.6"/><circle cx="487.73" cy="252.82" r="3.6"/><circle cx="487.97" cy="252.67" r="3.6"/><circle cx="488.2" cy="252.51" r="3.6"/><circle cx="488.44" cy="252.36" r="3.6"/><circle cx="488.67" cy="252.21" r="3.6"/><circle cx="488.91" cy="252.05" r="3.6"/><circle cx="489.15" cy="251.9" r="3.6"/><circle cx="489.38" cy="251.75" r="3.6"/><circle cx="489.62" cy="251.6" r="3.6"/><circle cx="489.86" cy="251.45" r="3.6"/><circle cx="490.09" cy="251.3" r="3.6"/><circle cx="490.33" cy="251.15" r="3.6"/><circle cx="490.57" cy="251.01" r="3.6"/><circle cx="490.8" cy="250.86" r="3.6"/><circle cx="491.04" cy="250.71" r="3.6"/><circle cx="491.28" cy="250.57" r="3.6"/><circle cx="491.51" cy="250.42" r="3.6"/><circle cx="491.75" cy="250.28" r="3.6"/><circle cx="491.98" cy="250.14" r="3.6"/><circle cx="492.22" cy="249.99" r="3.6"/><circle cx="492.46" cy="249.85" r="3.6"/><circle cx="492.69" cy="249.71" r="3.6"/><circle cx="492.93" cy="249.57" r="3.6"/><circle cx="493.17" cy="249.43" r="3.6"/><circle cx="493.4" cy="249.29" r="3.6"/><circle cx="493.64" cy="249.15" r="3.6"/><circle cx="493.88" cy="249.01" r="3.6"/><circle cx="494.11" cy="248.87" r="3.6"/><circle cx="494.35" cy="248.74" r="3.6"/><circle cx="494.58" cy="248.6" r="3.6"/><circle cx="494.82" cy="248.46" r="3.6"/><circle cx="495.06" cy="248.33" r="3.6"/><circle cx="495.29" cy="248.19" r="3.6"/><circle cx="495.53" cy="248.06" r="3.6"/><circle cx="495.77" cy="247.93" r="3.6"/><circle cx="496" cy="247.79" r="3.6"/><circle cx="496.24" cy="247.66" r="3.6"/><circle cx="496.48" cy="247.53" r="3.6"/><circle cx="496.71" cy="247.4" r="3.6"/><circle cx="496.95" cy="247.27" r="3.6"/><circle cx="497.19" cy="247.14" r="3.6"/><circle cx="497.42" cy="247.01" r="3.6"/><circle cx="497.66" cy="246.88" r="3.6"/><circle cx="497.89" cy="246.75" r="3.6"/><circle cx="498.13" cy="246.62" r="3.6"/><circle cx="498.37" cy="246.49" r="3.6"/><circle cx="498.6" cy="246.37" r="3.6"/><circle cx="498.84" cy="246.24" r="3.6"/><circle cx="499.08" cy="246.11" r="3.6"/><circle cx="499.31" cy="245.99" r="3.6"/><circle cx="499.55" cy="245.86" r="3.6"/><circle cx="499.79" cy="245.74" r="3.6"/><circle cx="500.02" cy="245.62" r="3.6"/><circle cx="500.26" cy="245.49" r="3.6"/><circle cx="500.49" cy="245.37" r="3.6"/><circle cx="500.73" cy="245.25" r="3.6"/><circle cx="500.97" cy="245.12" r="3.6"/><circle cx="501.2" cy="245" r="3.6"/><circle cx="501.44" cy="244.88" r="3.6"/><circle cx="501.68" cy="244.76" r="3.6"/><circle cx="501.91" cy="244.64" r="3.6"/><circle cx="502.15" cy="244.52" r="3.6"/><circle cx="502.39" cy="244.4" r="3.6"/><circle cx="502.62" cy="244.28" r="3.6"/><circle cx="502.86" cy="244.16" r="3.6"/><circle cx="503.1" cy="244.04" r="3.6"/><circle cx="503.33" cy="243.93" r="3.6"/><circle cx="503.57" cy="243.81" r="3.6"/><circle cx="503.8" cy="243.69" r="3.6"/><circle cx="504.04" cy="243.58" r="3.6"/><circle cx="504.28" cy="243.46" r="3.6"/><circle cx="504.51" cy="243.35" r="3.6"/><circle cx="504.75" cy="243.23" r="3.6"/><circle cx="504.99" cy="243.12" r="3.6"/><circle cx="505.22" cy="243" r="3.6"/><circle cx="505.46" cy="242.89" r="3.6"/><circle cx="505.7" cy="242.77" r="3.6"/><circle cx="505.93" cy="242.66" r="3.6"/><circle cx="506.17" cy="242.55" r="3.6"/><circle cx="506.4" cy="242.43" r="3.6"/><circle cx="506.64" cy="242.32" r="3.6"/><circle cx="506.88" cy="242.21" r="3.6"/><circle cx="507.11" cy="242.1" r="3.6"/><circle cx="507.35" cy="241.99" r="3.6"/><circle cx="507.59" cy="241.88" r="3.6"/><circle cx="507.82" cy="241.77" r="3.6"/><circle cx="508.06" cy="241.66" r="3.6"/><circle cx="508.3" cy="241.55" r="3.6"/><circle cx="508.53" cy="241.44" r="3.6"/><circle cx="508.77" cy="241.33" r="3.6"/><circle cx="509.01" cy="241.22" r="3.6"/><circle cx="509.24" cy="241.11" r="3.6"/><circle cx="509.48" cy="241.01" r="3.6"/><circle cx="509.71" cy="240.9" r="3.6"/><circle cx="509.95" cy="240.79" r="3.6"/><circle cx="510.19" cy="240.69" r="3.6"/><circle cx="510.42" cy="240.58" r="3.6"/><circle cx="510.66" cy="240.47" r="3.6"/><circle cx="510.9" cy="240.37" r="3.6"/><circle cx="511.13" cy="240.26" r="3.6"/><circle cx="511.37" cy="240.16" r="3.6"/><circle cx="511.61" cy="240.05" r="3.6"/><circle cx="511.84" cy="239.95" r="3.6"/><circle cx="512.08" cy="239.84" r="3.6"/><circle cx="512.31" cy="239.74" r="3.6"/><circle cx="512.55" cy="239.64" r="3.6"/><circle cx="512.79" cy="239.53" r="3.6"/><circle cx="513.02" cy="239.43" r="3.6"/><circle cx="513.26" cy="239.33" r="3.6"/><circle cx="513.5" cy="239.23" r="3.6"/><circle cx="513.73" cy="239.12" r="3.6"/><circle cx="513.97" cy="239.02" r="3.6"/><circle cx="514.21" cy="238.92" r="3.6"/><circle cx="514.44" cy="238.82" r="3.6"/><circle cx="514.68" cy="238.72" r="3.6"/><circle cx="514.92" cy="238.62" r="3.6"/><circle cx="515.15" cy="238.52" r="3.6"/><circle cx="515.39" cy="238.42" r="3.6"/><circle cx="515.62" cy="238.32" r="3.6"/><circle cx="515.86" cy="238.22" r="3.6"/><circle cx="516.1" cy="238.12" r="3.6"/><circle cx="516.33" cy="238.02" r="3.6"/><circle cx="516.57" cy="237.92" r="3.6"/><circle cx="516.81" cy="237.82" r="3.6"/><circle cx="517.04" cy="237.72" r="3.6"/><circle cx="517.28" cy="237.63" r="3.6"/><circle cx="517.52" cy="237.53" r="3.6"/><circle cx="517.75" cy="237.43" r="3.6"/><circle cx="517.99" cy="237.33" r="3.6"/><circle cx="518.22" cy="237.24" r="3.6"/><circle cx="518.46" cy="237.14" r="3.6"/><circle cx="518.7" cy="237.05" r="3.6"/><circle cx="518.93" cy="236.95" r="3.6"/><circle cx="519.17" cy="236.85" r="3.6"/><circle cx="520.12" cy="236.47" r="3.6"/><circle cx="522.48" cy="235.54" r="3.6"/><circle cx="524.84" cy="234.62" r="3.6"/><circle cx="527.21" cy="233.73" r="3.6"/><circle cx="529.57" cy="232.85" r="3.6"/><circle cx="531.94" cy="232" r="3.6"/><circle cx="534.3" cy="231.16" r="3.6"/><circle cx="536.66" cy="230.33" r="3.6"/><circle cx="539.03" cy="229.52" r="3.6"/><circle cx="541.39" cy="228.72" r="3.6"/><circle cx="543.76" cy="227.94" r="3.6"/><circle cx="546.12" cy="227.17" r="3.6"/><circle cx="548.48" cy="226.41" r="3.6"/><circle cx="550.85" cy="225.66" r="3.6"/><circle cx="553.21" cy="224.92" r="3.6"/><circle cx="555.58" cy="224.19" r="3.6"/><circle cx="557.94" cy="223.47" r="3.6"/><circle cx="560.3" cy="222.76" r="3.6"/><circle cx="562.67" cy="222.06" r="3.6"/><circle cx="565.03" cy="221.37" r="3.6"/><circle cx="567.4" cy="220.68" r="3.6"/><circle cx="569.76" cy="220" r="3.6"/><circle cx="572.12" cy="219.33" r="3.6"/><circle cx="574.49" cy="218.67" r="3.6"/><circle cx="576.85" cy="218.02" r="3.6"/><circle cx="579.22" cy="217.37" r="3.6"/><circle cx="581.58" cy="216.73" r="3.6"/><circle cx="583.94" cy="216.09" r="3.6"/><circle cx="586.31" cy="215.46" r="3.6"/><circle cx="588.67" cy="214.84" r="3.6"/><circle cx="591.04" cy="214.22" r="3.6"/><circle cx="593.4" cy="213.61" r="3.6"/><circle cx="595.76" cy="213.01" r="3.6"/><circle cx="598.13" cy="212.41" r="3.6"/><circle cx="600.49" cy="211.81" r="3.6"/><circle cx="602.86" cy="211.22" r="3.6"/><circle cx="605.22" cy="210.64" r="3.6"/><circle cx="607.58" cy="210.06" r="3.6"/><circle cx="609.95" cy="209.49" r="3.6"/><circle cx="612.31" cy="208.93" r="3.6"/><circle cx="614.68" cy="208.36" r="3.6"/><circle cx="617.04" cy="207.81" r="3.6"/><circle cx="619.4" cy="207.26" r="3.6"/><circle cx="621.77" cy="206.71" r="3.6"/><circle cx="624.13" cy="206.17" r="3.6"/><circle cx="626.5" cy="205.63" r="3.6"/><circle cx="628.86" cy="205.1" r="3.6"/><circle cx="631.22" cy="204.57" r="3.6"/><circle cx="633.59" cy="204.05" r="3.6"/><circle cx="635.95" cy="203.53" r="3.6"/><circle cx="638.32" cy="203.01" r="3.6"/><circle cx="640.68" cy="202.5" r="3.6"/><circle cx="643.04" cy="202" r="3.6"/><circle cx="645.41" cy="201.5" r="3.6"/><circle cx="647.77" cy="201" r="3.6"/><circle cx="650.14" cy="200.51" r="3.6"/><circle cx="652.5" cy="200.02" r="3.6"/><circle cx="654.86" cy="199.54" r="3.6"/><circle cx="657.23" cy="199.06" r="3.6"/><circle cx="659.59" cy="198.58" r="3.6"/><circle cx="661.96" cy="198.11" r="3.6"/><circle cx="664.32" cy="197.65" r="3.6"/><circle cx="666.68" cy="197.18" r="3.6"/><circle cx="669.05" cy="196.72" r="3.6"/><circle cx="671.41" cy="196.27" r="3.6"/><circle cx="673.78" cy="195.82" r="3.6"/><circle cx="676.14" cy="195.37" r="3.6"/><circle cx="678.5" cy="194.93" r="3.6"/><circle cx="680.87" cy="194.49" r="3.6"/><circle cx="683.23" cy="194.05" r="3.6"/><circle cx="685.6" cy="193.62" r="3.6"/><circle cx="687.96" cy="193.19" r="3.6"/><circle cx="690.32" cy="192.77" r="3.6"/><circle cx="692.69" cy="192.35" r="3.6"/><circle cx="695.05" cy="191.93" r="3.6"/><circle cx="697.42" cy="191.51" r="3.6"/><circle cx="699.78" cy="191.1" r="3.6"/><circle cx="702.14" cy="190.7" r="3.6"/><circle cx="704.51" cy="190.29" r="3.6"/><circle cx="706.87" cy="189.89" r="3.6"/><circle cx="709.24" cy="189.5" r="3.6"/><circle cx="711.6" cy="189.1" r="3.6"/></g><g fill="#fff" stroke="#0000ff" stroke-width="0.65" stroke-opacity="1.0"><circle cx="475.2" cy="262.4" r="3.25"/><circle cx="475.44" cy="262.1" r="3.25"/><circle cx="475.67" cy="262.07" r="3.25"/><circle cx="475.91" cy="262.05" r="3.25"/><circle cx="476.15" cy="262.02" r="3.25"/><circle cx="476.38" cy="262" r="3.25"/><circle cx="476.62" cy="261.98" r="3.25"/><circle cx="476.85" cy="261.96" r="3.25"/><circle cx="477.09" cy="261.94" r="3.25"/><circle cx="477.33" cy="261.92" r="3.25"/><circle cx="477.56" cy="261.9" r="3.25"/><circle cx="477.8" cy="261.88" r="3.25"/><circle cx="478.04" cy="261.86" r="3.25"/><circle cx="478.27" cy="261.84" r="3.25"/><circle cx="478.51" cy="261.82" r="3.25"/><circle cx="478.75" cy="261.8" r="3.25"/><circle cx="478.98" cy="261.77" r="3.25"/><circle cx="479.22" cy="261.75" r="3.25"/><circle cx="479.46" cy="261.73" r="3.25"/><circle cx="479.69" cy="261.71" r="3.25"/><circle cx="479.93" cy="261.69" r="3.25"/><circle cx="480.16" cy="261.67" r="3.25"/><circle cx="480.4" cy="261.65" r="3.25"/><circle cx="480.64" cy="261.63" r="3.25"/><circle cx="480.87" cy="261.61" r="3.25"/><circle cx="481.11" cy="261.59" r="3.25"/><circle cx="481.35" cy="261.57" r="3.25"/><circle cx="481.58" cy="261.55" r="3.25"/><circle cx="481.82" cy="261.53" r="3.25"/><circle cx="482.06" cy="261.51" r="3.25"/><circle cx="482.29" cy="261.49" r="3.25"/><circle cx="482.53" cy="261.47" r="3.25"/><circle cx="482.76" cy="261.46" r="3.25"/><circle cx="483" cy="261.44" r="3.25"/><circle cx="483.24" cy="261.42" r="3.25"/><circle cx="483.47" cy="261.4" r="3.25"/><circle cx="483.71" cy="261.38" r="3.25"/><circle cx="483.95" cy="261.36" r="3.25"/><circle cx="484.18" cy="261.34" r="3.25"/><circle cx="484.42" cy="261.32" r="3.25"/><circle cx="484.66" cy="261.3" r="3.25"/><circle cx="484.89" cy="261.28" r="3.25"/><circle cx="485.13" cy="261.26" r="3.25"/><circle cx="485.37" cy="261.24" r="3.25"/><circle cx="485.6" cy="261.22" r="3.25"/><circle cx="485.84" cy="261.21" r="3.25"/><circle cx="486.07" cy="261.19" r="3.25"/><circle cx="486.31" cy="261.17" r="3.25"/><circle cx="486.55" cy="261.15" r="3.25"/><circle cx="486.78" cy="261.13" r="3.25"/><circle cx="487.02" cy="261.11" r="3.25"/><circle cx="487.26" cy="261.09" r="3.25"/><circle cx="487.49" cy="261.07" r="3.25"/><circle cx="487.73" cy="261.06" r="3.25"/><circle cx="487.97" cy="261.04" r="3.25"/><circle cx="488.2" cy="261.02" r="3.25"/><circle cx="488.44" cy="261" r="3.25"/><circle cx="488.67" cy="260.98" r="3.25"/><circle cx="488.91" cy="260.96" r="3.25"/><circle cx="489.15" cy="260.95" r="3.25"/><circle cx="489.38" cy="260.93" r="3.25"/><circle cx="489.62" cy="260.91" r="3.25"/><circle cx="489.86" cy="260.89" r="3.25"/><circle cx="490.09" cy="260.87" r="3.25"/><circle cx="490.33" cy="260.86" r="3.25"/><circle cx="490.57" cy="260.84" r="3.25"/><circle cx="490.8" cy="260.82" r="3.25"/><circle cx="491.04" cy="260.8" r="3.25"/><circle cx="491.28" cy="260.78" r="3.25"/><circle cx="491.51" cy="260.77" r="3.25"/><circle cx="491.75" cy="260.75" r="3.25"/><circle cx="491.98" cy="260.73" r="3.25"/><circle cx="492.22" cy="260.71" r="3.25"/><circle cx="492.46" cy="260.7" r="3.25"/><circle cx="492.69" cy="260.68" r="3.25"/><circle cx="492.93" cy="260.66" r="3.25"/><circle cx="493.17" cy="260.64" r="3.25"/><circle cx="493.4" cy="260.63" r="3.25"/><circle cx="493.64" cy="260.61" r="3.25"/><circle cx="493.88" cy="260.59" r="3.25"/><circle cx="494.11" cy="260.58" r="3.25"/><circle cx="494.35" cy="260.56" r="3.25"/><circle cx="494.58" cy="260.54" r="3.25"/><circle cx="494.82" cy="260.52" r="3.25"/><circle cx="495.06" cy="260.51" r="3.25"/><circle cx="495.29" cy="260.49" r="3.25"/><circle cx="495.53" cy="260.47" r="3.25"/><circle cx="495.77" cy="260.46" r="3.25"/><circle cx="496" cy="260.44" r="3.25"/><circle cx="496.24" cy="260.42" r="3.25"/><circle cx="496.48" cy="260.41" r="3.25"/><circle cx="496.71" cy="260.39" r="3.25"/><circle cx="496.95" cy="260.37" r="3.25"/><circle cx="497.19" cy="260.36" r="3.25"/><circle cx="497.42" cy="260.34" r="3.25"/><circle cx="497.66" cy="260.32" r="3.25"/><circle cx="497.89" cy="260.31" r="3.25"/><circle cx="498.13" cy="260.29" r="3.25"/><circle cx="498.37" cy="260.27" r="3.25"/><circle cx="498.6" cy="260.26" r="3.25"/><circle cx="498.84" cy="260.24" r="3.25"/><circle cx="499.08" cy="260.23" r="3.25"/><circle cx="499.31" cy="260.21" r="3.25"/><circle cx="499.55" cy="260.19" r="3.25"/><circle cx="499.79" cy="260.18" r="3.25"/><circle cx="500.02" cy="260.16" r="3.25"/><circle cx="500.26" cy="260.15" r="3.25"/><circle cx="500.49" cy="260.13" r="3.25"/><circle cx="500.73" cy="260.11" r="3.25"/><circle cx="500.97" cy="260.1" r="3.25"/><circle cx="501.2" cy="260.08" r="3.25"/><circle cx="501.44" cy="260.07" r="3.25"/><circle cx="501.68" cy="260.05" r="3.25"/><circle cx="501.91" cy="260.03" r="3.25"/><circle cx="502.15" cy="260.02" r="3.25"/><circle cx="502.39" cy="260" r="3.25"/><circle cx="502.62" cy="259.99" r="3.25"/><circle cx="502.86" cy="259.97" r="3.25"/><circle cx="503.1" cy="259.96" r="3.25"/><circle cx="503.33" cy="259.94" r="3.25"/><circle cx="503.57" cy="259.93" r="3.25"/><circle cx="503.8" cy="259.91" r="3.25"/><circle cx="504.04" cy="259.9" r="3.25"/><circle cx="504.28" cy="259.88" r="3.25"/><circle cx="504.51" cy="259.86" r="3.25"/><circle cx="504.75" cy="259.85" r="3.25"/><circle cx="504.99" cy="259.83" r="3.25"/><circle cx="505.22" cy="259.82" r="3.25"/><circle cx="505.46" cy="259.8" r="3.25"/><circle cx="505.7" cy="259.79" r="3.25"/><circle cx="505.93" cy="259.77" r="3.25"/><circle cx="506.17" cy="259.76" r="3.25"/><circle cx="506.4" cy="259.74" r="3.25"/><circle cx="506.64" cy="259.73" r="3.25"/><circle cx="506.88" cy="259.71" r="3.25"/><circle cx="507.11" cy="259.7" r="3.25"/><circle cx="507.35" cy="259.69" r="3.25"/><circle cx="507.59" cy="259.67" r="3.25"/><circle cx="507.82" cy="259.66" r="3.25"/><circle cx="508.06" cy="259.64" r="3.25"/><circle cx="508.3" cy="259.63" r="3.25"/><circle cx="508.53" cy="259.61" r="3.25"/><circle cx="508.77" cy="259.6" r="3.25"/><circle cx="509.01" cy="259.58" r="3.25"/><circle cx="509.24" cy="259.57" r="3.25"/><circle cx="509.48" cy="259.55" r="3.25"/><circle cx="509.71" cy="259.54" r="3.25"/><circle cx="509.95" cy="259.53" r="3.25"/><circle cx="510.19" cy="259.51" r="3.25"/><circle cx="510.42" cy="259.5" r="3.25"/><circle cx="510.66" cy="259.48" r="3.25"/><circle cx="510.9" cy="259.47" r="3.25"/><circle cx="511.13" cy="259.45" r="3.25"/><circle cx="511.37" cy="259.44" r="3.25"/><circle cx="511.61" cy="259.43" r="3.25"/><circle cx="511.84" cy="259.41" r="3.25"/><circle cx="512.08" cy="259.4" r="3.25"/><circle cx="512.31" cy="259.38" r="3.25"/><circle cx="512.55" cy="259.37" r="3.25"/><circle cx="512.79" cy="259.36" r="3.25"/><circle cx="513.02" cy="259.34" r="3.25"/><circle cx="513.26" cy="259.33" r="3.25"/><circle cx="513.5" cy="259.32" r="3.25"/><circle cx="513.73" cy="259.3" r="3.25"/><circle cx="513.97" cy="259.29" r="3.25"/><circle cx="514.21" cy="259.27" r="3.25"/><circle cx="514.44" cy="259.26" r="3.25"/><circle cx="514.68" cy="259.25" r="3.25"/><circle cx="514.92" cy="259.23" r="3.25"/><circle cx="515.15" cy="259.22" r="3.25"/><circle cx="515.39" cy="259.21" r="3.25"/><circle cx="515.62" cy="259.19" r="3.25"/><circle cx="515.86" cy="259.18" r="3.25"/><circle cx="516.1" cy="259.17" r="3.25"/><circle cx="516.33" cy="259.15" r="3.25"/><circle cx="516.57" cy="259.14" r="3.25"/><circle cx="516.81" cy="259.13" r="3.25"/><circle cx="517.04" cy="259.11" r="3.25"/><circle cx="517.28" cy="259.1" r="3.25"/><circle cx="517.52" cy="259.09" r="3.25"/><circle cx="517.75" cy="259.07" r="3.25"/><circle cx="517.99" cy="259.06" r="3.25"/><circle cx="518.22" cy="259.05" r="3.25"/><circle cx="518.46" cy="259.04" r="3.25"/><circle cx="518.7" cy="259.02" r="3.25"/><circle cx="518.93" cy="259.01" r="3.25"/><circle cx="519.17" cy="259" r="3.25"/></g><g fill="#fff" stroke="#0000ff" stroke-width="0.65" stroke-opacity="0.75"><circle cx="520.12" cy="258.95" r="3.25"/><circle cx="522.48" cy="258.82" r="3.25"/><circle cx="524.84" cy="258.7" r="3.25"/><circle cx="527.21" cy="258.58" r="3.25"/><circle cx="529.57" cy="258.46" r="3.25"/><circle cx="531.94" cy="258.35" r="3.25"/><circle cx="534.3" cy="258.24" r="3.25"/><circle cx="536.66" cy="258.14" r="3.25"/><circle cx="539.03" cy="258.03" r="3.25"/><circle cx="541.39" cy="257.93" r="3.25"/><circle cx="543.76" cy="257.83" r="3.25"/><circle cx="546.12" cy="257.74" r="3.25"/><circle cx="548.48" cy="257.65" r="3.25"/><circle cx="550.85" cy="257.55" r="3.25"/><circle cx="553.21" cy="257.47" r="3.25"/><circle cx="555.58" cy="257.38" r="3.25"/><circle cx="557.94" cy="257.3" r="3.25"/><circle cx="560.3" cy="257.22" r="3.25"/><circle cx="562.67" cy="257.14" r="3.25"/><circle cx="565.03" cy="257.06" r="3.25"/><circle cx="567.4" cy="256.99" r="3.25"/><circle cx="569.76" cy="256.91" r="3.25"/><circle cx="572.12" cy="256.84" r="3.25"/><circle cx="574.49" cy="256.77" r="3.25"/><circle cx="576.85" cy="256.71" r="3.25"/><circle cx="579.22" cy="256.64" r="3.25"/><circle cx="581.58" cy="256.58" r="3.25"/><circle cx="583.94" cy="256.52" r="3.25"/><circle cx="586.31" cy="256.46" r="3.25"/><circle cx="588.67" cy="256.4" r="3.25"/><circle cx="591.04" cy="256.34" r="3.25"/><circle cx="593.4" cy="256.29" r="3.25"/><circle cx="595.76" cy="256.23" r="3.25"/><circle cx="598.13" cy="256.18" r="3.25"/><circle cx="600.49" cy="256.13" r="3.25"/><circle cx="602.86" cy="256.08" r="3.25"/><circle cx="605.22" cy="256.03" r="3.25"/><circle cx="607.58" cy="255.98" r="3.25"/><circle cx="609.95" cy="255.94" r="3.25"/><circle cx="612.31" cy="255.89" r="3.25"/><circle cx="614.68" cy="255.85" r="3.25"/><circle cx="617.04" cy="255.81" r="3.25"/><circle cx="619.4" cy="255.77" r="3.25"/><circle cx="621.77" cy="255.73" r="3.25"/><circle cx="624.13" cy="255.69" r="3.25"/><circle cx="626.5" cy="255.65" r="3.25"/><circle cx="628.86" cy="255.61" r="3.25"/><circle cx="631.22" cy="255.58" r="3.25"/><circle cx="633.59" cy="255.54" r="3.25"/><circle cx="635.95" cy="255.51" r="3.25"/><circle cx="638.32" cy="255.48" r="3.25"/><circle cx="640.68" cy="255.45" r="3.25"/><circle cx="643.04" cy="255.41" r="3.25"/><circle cx="645.41" cy="255.38" r="3.25"/><circle cx="647.77" cy="255.35" r="3.25"/><circle cx="650.14" cy="255.33" r="3.25"/><circle cx="652.5" cy="255.3" r="3.25"/><circle cx="654.86" cy="255.27" r="3.25"/><circle cx="657.23" cy="255.24" r="3.25"/><circle cx="659.59" cy="255.22" r="3.25"/><circle cx="661.96" cy="255.19" r="3.25"/><circle cx="664.32" cy="255.17" r="3.25"/><circle cx="666.68" cy="255.14" r="3.25"/><circle cx="669.05" cy="255.12" r="3.25"/><circle cx="671.41" cy="255.1" r="3.25"/><circle cx="673.78" cy="255.08" r="3.25"/><circle cx="676.14" cy="255.06" r="3.25"/><circle cx="678.5" cy="255.04" r="3.25"/><circle cx="680.87" cy="255.02" r="3.25"/><circle cx="683.23" cy="255" r="3.25"/><circle cx="685.6" cy="254.98" r="3.25"/><circle cx="687.96" cy="254.96" r="3.25"/><circle cx="690.32" cy="254.94" r="3.25"/><circle cx="692.69" cy="254.92" r="3.25"/><circle cx="695.05" cy="254.9" r="3.25"/><circle cx="697.42" cy="254.89" r="3.25"/><circle cx="699.78" cy="254.87" r="3.25"/><circle cx="702.14" cy="254.86" r="3.25"/><circle cx="704.51" cy="254.84" r="3.25"/><circle cx="706.87" cy="254.83" r="3.25"/><circle cx="709.24" cy="254.81" r="3.25"/><circle cx="711.6" cy="254.8" r="3.25"/></g><path d="M467.32 274.9v-4.8M467.32 14.1v4.8M475.2 274.9v-9.6M475.2 14.1v9.6M483.08 274.9v-4.8M483.08 14.1v4.8M490.96 274.9v-4.8M490.96 14.1v4.8M498.84 274.9v-4.8M498.84 14.1v4.8M506.72 274.9v-4.8M506.72 14.1v4.8M514.6 274.9v-4.8M514.6 14.1v4.8M522.48 274.9v-9.6M522.48 14.1v9.6M530.36 274.9v-4.8M530.36 14.1v4.8M538.24 274.9v-4.8M538.24 14.1v4.8M546.12 274.9v-4.8M546.12 14.1v4.8M554 274.9v-4.8M554 14.1v4.8M561.88 274.9v-4.8M561.88 14.1v4.8M569.76 274.9v-9.6M569.76 14.1v9.6M577.64 274.9v-4.8M577.64 14.1v4.8M585.52 274.9v-4.8M585.52 14.1v4.8M593.4 274.9v-4.8M593.4 14.1v4.8M601.28 274.9v-4.8M601.28 14.1v4.8M609.16 274.9v-4.8M609.16 14.1v4.8M617.04 274.9v-9.6M617.04 14.1v9.6M624.92 274.9v-4.8M624.92 14.1v4.8M632.8 274.9v-4.8M632.8 14.1v4.8M640.68 274.9v-4.8M640.68 14.1v4.8M648.56 274.9v-4.8M648.56 14.1v4.8M656.44 274.9v-4.8M656.44 14.1v4.8M664.32 274.9v-9.6M664.32 14.1v9.6M672.2 274.9v-4.8M672.2 14.1v4.8M680.08 274.9v-4.8M680.08 14.1v4.8M687.96 274.9v-4.8M687.96 14.1v4.8M695.84 274.9v-4.8M695.84 14.1v4.8M703.72 274.9v-4.8M703.72 14.1v4.8M711.6 274.9v-9.6M711.6 14.1v9.6M719.48 274.9v-4.8M719.48 14.1v4.8M463.2 270.68h4.8M723.3 270.68h-4.8M463.2 262.4h9.6M723.3 262.4h-9.6M463.2 254.12h4.8M723.3 254.12h-4.8M463.2 245.85h4.8M723.3 245.85h-4.8M463.2 237.57h4.8M723.3 237.57h-4.8M463.2 229.29h4.8M723.3 229.29h-4.8M463.2 221.02h4.8M723.3 221.02h-4.8M463.2 212.74h9.6M723.3 212.74h-9.6M463.2 204.46h4.8M723.3 204.46h-4.8M463.2 196.19h4.8M723.3 196.19h-4.8M463.2 187.91h4.8M723.3 187.91h-4.8M463.2 179.63h4.8M723.3 179.63h-4.8M463.2 171.36h4.8M723.3 171.36h-4.8M463.2 163.08h9.6M723.3 163.08h-9.6M463.2 154.8h4.8M723.3 154.8h-4.8M463.2 146.53h4.8M723.3 146.53h-4.8M463.2 138.25h4.8M723.3 138.25h-4.8M463.2 129.97h4.8M723.3 129.97h-4.8M463.2 121.7h4.8M723.3 121.7h-4.8M463.2 113.42h9.6M723.3 113.42h-9.6M463.2 105.14h4.8M723.3 105.14h-4.8M463.2 96.87h4.8M723.3 96.87h-4.8M463.2 88.59h4.8M723.3 88.59h-4.8M463.2 80.31h4.8M723.3 80.31h-4.8M463.2 72.04h4.8M723.3 72.04h-4.8M463.2 63.76h9.6M723.3 63.76h-9.6M463.2 55.48h4.8M723.3 55.48h-4.8M463.2 47.21h4.8M723.3 47.21h-4.8M463.2 38.93h4.8M723.3 38.93h-4.8M463.2 30.65h4.8M723.3 30.65h-4.8M463.2 22.38h4.8M723.3 22.38h-4.8M463.2 14.1h9.6M723.3 14.1h-9.6" stroke="#000" stroke-width="2.35" fill="none"/><rect x="463.2" y="14.1" width="260.1" height="260.8" fill="none" stroke="#000" stroke-width="2.6"/><g font-family="Liberation Sans" font-weight="bold" font-size="18.7" fill="#000"><text x="453" y="268.1" text-anchor="end">0</text><text x="453" y="218.44" text-anchor="end">200</text><text x="453" y="168.78" text-anchor="end">400</text><text x="453" y="119.12" text-anchor="end">600</text><text x="453" y="69.46" text-anchor="end">800</text><text x="453" y="19.8" text-anchor="end">1000</text><text x="475.2" y="299.3" text-anchor="middle">0</text><text x="522.48" y="299.3" text-anchor="middle">200</text><text x="569.76" y="299.3" text-anchor="middle">400</text><text x="617.04" y="299.3" text-anchor="middle">600</text><text x="664.32" y="299.3" text-anchor="middle">800</text><text x="711.6" y="299.3" text-anchor="middle">1000</text><text x="593.25" y="323.9" text-anchor="middle">Time [s]</text><text transform="translate(401.5 145) rotate(-90)" text-anchor="middle" font-size="18.2">G',G'' [Pa]</text></g><rect x="477.9" y="60.1" width="6.6" height="6.6" fill="#ff0000"/><rect x="478.4" y="77.6" width="5.6" height="5.6" fill="#fff" stroke="#ff0000" stroke-width="0.7" stroke-opacity="0.75"/><circle cx="481.2" cy="97.6" r="3.7" fill="#0000ff"/><circle cx="481.2" cy="114.4" r="3.2" fill="#fff" stroke="#0000ff" stroke-width="0.7" stroke-opacity="0.75"/><g font-family="Liberation Sans" font-weight="bold" font-size="13.3" fill="#000"><text x="500.5" y="67.7">G'</text><text x="500.5" y="84.7">G''</text><text x="500.5" y="101.9">G'</text><text x="500.5" y="118.7">G''</text></g><g font-family="Liberation Sans" font-weight="bold" font-size="16" fill="#000"><text x="212" y="67.6">M<tspan font-size="11" dy="4.2">w</tspan><tspan dy="-4.2">=334 kDa</tspan></text><text x="234" y="179.9">M<tspan font-size="11" dy="4.2">w</tspan><tspan dy="-4.2">=110 kDa</tspan></text><text x="601.8" y="78.9">G/M=1.67</text><text x="599.9" y="187.1">G/M=0.77</text></g><g font-family="Liberation Serif" font-size="22" fill="#000"><text transform="translate(146.8 369.9) scale(0.88 1)" font-size="24">(</text><text x="153.3" y="369.2" font-weight="bold" font-size="20.5">a</text><text transform="translate(163.9 369.9) scale(0.88 1)" font-size="24">)</text><text transform="translate(580.9 369.9) scale(0.88 1)" font-size="24">(</text><text x="587.7" y="369.2" font-weight="bold" font-size="21">b</text><text transform="translate(600.7 369.9) scale(0.88 1)" font-size="24">)</text></g></svg></body></html>
